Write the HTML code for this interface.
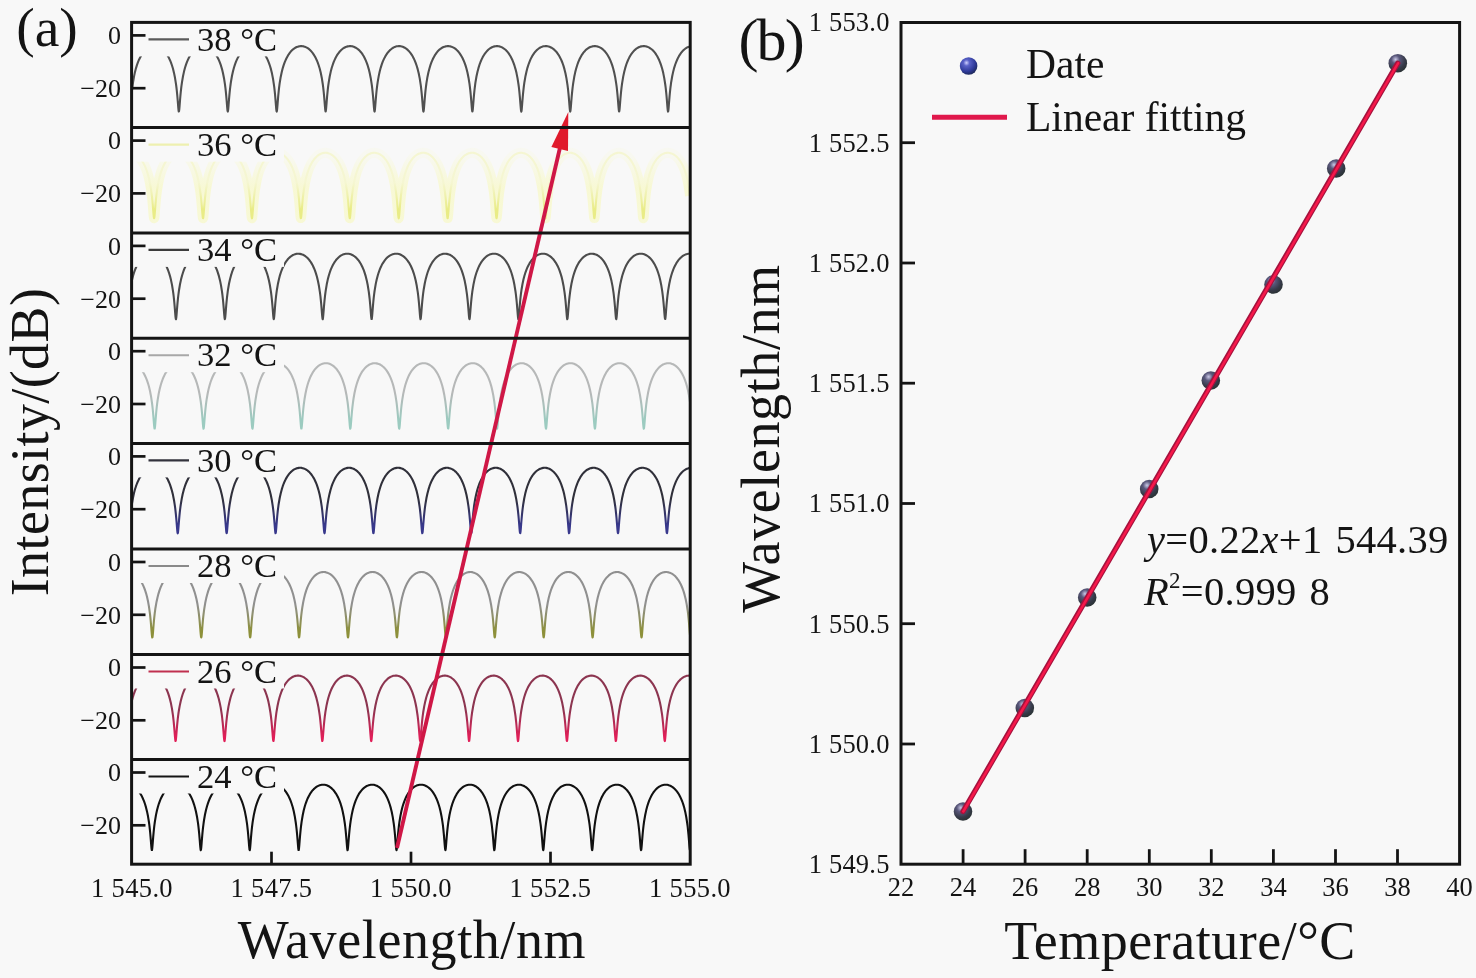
<!DOCTYPE html>
<html lang="en"><head><meta charset="utf-8"><title>Figure</title>
<style>
html,body{margin:0;padding:0;background:#f8f8f8;}
body{width:1476px;height:978px;overflow:hidden;}
svg{display:block;}
.s{font-family:"Liberation Serif","Times New Roman",serif;fill:#141414;}
</style></head><body>
<svg width="1476" height="978" viewBox="0 0 1476 978">
<defs>
<linearGradient id="g38" gradientUnits="userSpaceOnUse" x1="0" y1="77.4" x2="0" y2="104.4"><stop offset="0" stop-color="#505050"/><stop offset="1" stop-color="#505050"/></linearGradient>
<linearGradient id="g36" gradientUnits="userSpaceOnUse" x1="0" y1="182.6" x2="0" y2="209.6"><stop offset="0" stop-color="#f5f6d2"/><stop offset="1" stop-color="#e9ec86"/></linearGradient>
<linearGradient id="g34" gradientUnits="userSpaceOnUse" x1="0" y1="287.9" x2="0" y2="314.9"><stop offset="0" stop-color="#4c4c4c"/><stop offset="1" stop-color="#4c4c4c"/></linearGradient>
<linearGradient id="g32" gradientUnits="userSpaceOnUse" x1="0" y1="393.2" x2="0" y2="420.2"><stop offset="0" stop-color="#b6b8b8"/><stop offset="1" stop-color="#9ccbc0"/></linearGradient>
<linearGradient id="g30" gradientUnits="userSpaceOnUse" x1="0" y1="498.4" x2="0" y2="525.4"><stop offset="0" stop-color="#30303a"/><stop offset="1" stop-color="#38388c"/></linearGradient>
<linearGradient id="g28" gradientUnits="userSpaceOnUse" x1="0" y1="604.0" x2="0" y2="631.0"><stop offset="0" stop-color="#909090"/><stop offset="1" stop-color="#8d903a"/></linearGradient>
<linearGradient id="g26" gradientUnits="userSpaceOnUse" x1="0" y1="709.5" x2="0" y2="736.5"><stop offset="0" stop-color="#8c3550"/><stop offset="1" stop-color="#e01f58"/></linearGradient>
<linearGradient id="g24" gradientUnits="userSpaceOnUse" x1="0" y1="814.5" x2="0" y2="841.5"><stop offset="0" stop-color="#111111"/><stop offset="1" stop-color="#111111"/></linearGradient>
<linearGradient id="glow36" gradientUnits="userSpaceOnUse" x1="0" y1="155.6" x2="0" y2="187.6"><stop offset="0" stop-color="#f7f9a0" stop-opacity="0.08"/><stop offset="1" stop-color="#f7f9a0" stop-opacity="0.4"/></linearGradient>
<radialGradient id="ball" cx="0.38" cy="0.32" r="0.7"><stop offset="0" stop-color="#cfd0ff"/><stop offset="0.25" stop-color="#5a62c8"/><stop offset="0.7" stop-color="#2f3a9a"/><stop offset="1" stop-color="#1e2a5a"/></radialGradient>
<radialGradient id="pt" cx="0.38" cy="0.3" r="0.72"><stop offset="0" stop-color="#cac8e6"/><stop offset="0.3" stop-color="#5a587c"/><stop offset="0.72" stop-color="#363a48"/><stop offset="1" stop-color="#2a3234"/></radialGradient>
<clipPath id="clipA"><rect x="132.0" y="22.4" width="558.0" height="841.8000000000001"/></clipPath>
</defs>
<rect width="1476" height="978" fill="#f8f8f8"/>
<g clip-path="url(#clipA)" fill="none" stroke-linejoin="round">
<path d="M132.00,90.5 132.25,88.3 132.50,86.3 132.75,84.4 133.00,82.6 134.00,76.6 135.00,71.9 136.00,68.1 137.00,64.9 138.00,62.1 139.00,59.7 140.00,57.7 141.00,55.9 142.00,54.3 143.00,52.9 144.00,51.6 145.00,50.5 146.00,49.6 147.00,48.8 148.00,48.1 149.00,47.5 150.00,47.0 151.00,46.7 152.00,46.4 153.00,46.2 154.00,46.1 155.00,46.1 156.00,46.2 157.00,46.4 158.00,46.7 159.00,47.1 160.00,47.6 161.00,48.2 162.00,48.9 163.00,49.8 164.00,50.8 165.00,51.9 166.00,53.1 167.00,54.6 168.00,56.2 169.00,58.1 170.00,60.2 171.00,62.7 172.00,65.5 173.00,68.8 174.00,72.9 175.00,77.8 176.00,84.1 176.25,86.0 176.50,88.0 176.75,90.2 177.00,92.6 177.25,95.2 177.50,98.0 177.75,101.0 178.00,104.2 178.25,107.3 178.50,110.0 178.75,111.5 179.00,111.3 179.25,109.6 179.50,106.8 179.75,103.7 180.00,100.5 180.25,97.5 180.50,94.7 180.75,92.2 181.00,89.8 181.25,87.6 181.50,85.6 181.75,83.8 182.00,82.1 183.00,76.2 184.00,71.6 185.00,67.8 186.00,64.6 187.00,61.9 188.00,59.6 189.00,57.5 190.00,55.7 191.00,54.1 192.00,52.8 193.00,51.5 194.00,50.5 195.00,49.5 196.00,48.7 197.00,48.0 198.00,47.5 199.00,47.0 200.00,46.6 201.00,46.4 202.00,46.2 203.00,46.1 204.00,46.1 205.00,46.2 206.00,46.4 207.00,46.8 208.00,47.2 209.00,47.7 210.00,48.3 211.00,49.0 212.00,49.9 213.00,50.8 214.00,52.0 215.00,53.2 216.00,54.7 217.00,56.4 218.00,58.2 219.00,60.4 220.00,62.9 221.00,65.7 222.00,69.1 223.00,73.2 224.00,78.2 225.00,84.7 225.25,86.6 225.50,88.7 225.75,90.9 226.00,93.4 226.25,96.1 226.50,99.0 226.75,102.0 227.00,105.2 227.25,108.2 227.50,110.6 227.75,111.6 228.00,110.9 228.25,108.8 228.50,105.8 228.75,102.7 229.00,99.5 229.25,96.6 229.50,93.9 229.75,91.4 230.00,89.1 230.25,87.0 230.50,85.0 230.75,83.2 231.00,81.5 232.00,75.8 233.00,71.3 234.00,67.5 235.00,64.4 236.00,61.7 237.00,59.4 238.00,57.4 239.00,55.6 240.00,54.0 241.00,52.6 242.00,51.4 243.00,50.4 244.00,49.5 245.00,48.7 246.00,48.0 247.00,47.4 248.00,47.0 249.00,46.6 250.00,46.3 251.00,46.2 252.00,46.1 253.00,46.1 254.00,46.3 255.00,46.5 256.00,46.8 257.00,47.2 258.00,47.7 259.00,48.3 260.00,49.1 261.00,49.9 262.00,50.9 263.00,52.1 264.00,53.4 265.00,54.8 266.00,56.5 267.00,58.4 268.00,60.6 269.00,63.1 270.00,66.0 271.00,69.4 272.00,73.6 273.00,78.7 274.00,85.3 274.25,87.2 274.50,89.4 274.75,91.7 275.00,94.2 275.25,97.0 275.50,99.9 275.75,103.1 276.00,106.2 276.25,109.1 276.50,111.1 276.75,111.6 277.00,110.4 277.25,107.9 277.50,104.8 277.75,101.6 278.00,98.6 278.25,95.7 278.50,93.1 278.75,90.6 279.00,88.4 279.25,86.3 279.50,84.4 279.75,82.7 280.75,76.7 281.75,72.0 282.75,68.1 283.75,64.9 284.75,62.1 285.75,59.8 286.75,57.7 287.75,55.9 288.75,54.3 289.75,52.9 290.75,51.6 291.75,50.6 292.75,49.6 293.75,48.8 294.75,48.1 295.75,47.5 296.75,47.0 297.75,46.7 298.75,46.4 299.75,46.2 300.75,46.1 301.75,46.1 302.75,46.2 303.75,46.4 304.75,46.7 305.75,47.1 306.75,47.6 307.75,48.2 308.75,48.9 309.75,49.8 310.75,50.8 311.75,51.9 312.75,53.1 313.75,54.6 314.75,56.2 315.75,58.1 316.75,60.2 317.75,62.6 318.75,65.5 319.75,68.8 320.75,72.8 321.75,77.7 322.75,84.0 323.00,85.9 323.25,87.9 323.50,90.1 323.75,92.5 324.00,95.1 324.25,97.9 324.50,100.9 324.75,104.1 325.00,107.2 325.25,109.9 325.50,111.4 325.75,111.4 326.00,109.7 326.25,106.9 326.50,103.8 326.75,100.6 327.00,97.6 327.25,94.8 327.50,92.3 327.75,89.9 328.00,87.7 328.25,85.7 328.50,83.9 328.75,82.1 329.75,76.3 330.75,71.6 331.75,67.8 332.75,64.7 333.75,61.9 334.75,59.6 335.75,57.5 336.75,55.7 337.75,54.2 338.75,52.8 339.75,51.5 340.75,50.5 341.75,49.5 342.75,48.7 343.75,48.0 344.75,47.5 345.75,47.0 346.75,46.6 347.75,46.4 348.75,46.2 349.75,46.1 350.75,46.1 351.75,46.2 352.75,46.4 353.75,46.8 354.75,47.2 355.75,47.7 356.75,48.3 357.75,49.0 358.75,49.9 359.75,50.8 360.75,52.0 361.75,53.2 362.75,54.7 363.75,56.3 364.75,58.2 365.75,60.4 366.75,62.8 367.75,65.7 368.75,69.1 369.75,73.2 370.75,78.2 371.75,84.6 372.00,86.5 372.25,88.6 372.50,90.8 372.75,93.3 373.00,96.0 373.25,98.8 373.50,101.9 373.75,105.1 374.00,108.1 374.25,110.5 374.50,111.6 374.75,111.0 375.00,108.9 375.25,106.0 375.50,102.8 375.75,99.7 376.00,96.7 376.25,94.0 376.50,91.5 376.75,89.2 377.00,87.1 377.25,85.1 377.50,83.3 377.75,81.6 378.75,75.9 379.75,71.3 380.75,67.6 381.75,64.4 382.75,61.7 383.75,59.4 384.75,57.4 385.75,55.6 386.75,54.0 387.75,52.7 388.75,51.5 389.75,50.4 390.75,49.5 391.75,48.7 392.75,48.0 393.75,47.4 394.75,47.0 395.75,46.6 396.75,46.3 397.75,46.2 398.75,46.1 399.75,46.1 400.75,46.3 401.75,46.5 402.75,46.8 403.75,47.2 404.75,47.7 405.75,48.3 406.75,49.1 407.75,49.9 408.75,50.9 409.75,52.1 410.75,53.3 411.75,54.8 412.75,56.5 413.75,58.4 414.75,60.6 415.75,63.1 416.75,66.0 417.75,69.4 418.75,73.5 419.75,78.6 420.75,85.2 421.00,87.2 421.25,89.3 421.50,91.6 421.75,94.1 422.00,96.9 422.25,99.8 422.50,102.9 422.75,106.1 423.00,109.0 423.25,111.0 423.50,111.6 423.75,110.4 424.00,108.0 424.25,105.0 424.50,101.8 424.75,98.7 425.00,95.8 425.25,93.2 425.50,90.7 425.75,88.5 426.00,86.4 426.25,84.5 426.50,82.7 427.50,76.7 428.50,72.0 429.50,68.2 430.50,64.9 431.50,62.2 432.50,59.8 433.50,57.7 434.50,55.9 435.50,54.3 436.50,52.9 437.50,51.6 438.50,50.6 439.50,49.6 440.50,48.8 441.50,48.1 442.50,47.5 443.50,47.0 444.50,46.7 445.50,46.4 446.50,46.2 447.50,46.1 448.50,46.1 449.50,46.2 450.50,46.4 451.50,46.7 452.50,47.1 453.50,47.6 454.50,48.2 455.50,48.9 456.50,49.8 457.50,50.7 458.50,51.8 459.50,53.1 460.50,54.6 461.50,56.2 462.50,58.0 463.50,60.2 464.50,62.6 465.50,65.4 466.50,68.8 467.50,72.8 468.50,77.7 469.50,83.9 469.75,85.8 470.00,87.8 470.25,90.0 470.50,92.4 470.75,95.0 471.00,97.8 471.25,100.8 471.50,104.0 471.75,107.1 472.00,109.8 472.25,111.4 472.50,111.4 472.75,109.8 473.00,107.1 473.25,103.9 473.50,100.8 473.75,97.7 474.00,94.9 474.25,92.4 474.50,90.0 474.75,87.8 475.00,85.8 475.25,83.9 475.50,82.2 476.50,76.3 477.50,71.7 478.50,67.9 479.50,64.7 480.50,62.0 481.50,59.6 482.50,57.6 483.50,55.8 484.50,54.2 485.50,52.8 486.50,51.6 487.50,50.5 488.50,49.5 489.50,48.7 490.50,48.1 491.50,47.5 492.50,47.0 493.50,46.6 494.50,46.4 495.50,46.2 496.50,46.1 497.50,46.1 498.50,46.2 499.50,46.4 500.50,46.7 501.50,47.1 502.50,47.7 503.50,48.3 504.50,49.0 505.50,49.8 506.50,50.8 507.50,51.9 508.50,53.2 509.50,54.7 510.50,56.3 511.50,58.2 512.50,60.3 513.50,62.8 514.50,65.7 515.50,69.1 516.50,73.1 517.50,78.1 518.50,84.5 518.75,86.4 519.00,88.5 519.25,90.7 519.50,93.2 519.75,95.8 520.00,98.7 520.25,101.8 520.50,105.0 520.75,108.0 521.00,110.4 521.25,111.6 521.50,111.0 521.75,109.0 522.00,106.1 522.25,102.9 522.50,99.8 522.75,96.8 523.00,94.1 523.25,91.6 523.50,89.3 523.75,87.1 524.00,85.2 524.25,83.4 524.50,81.7 525.50,75.9 526.50,71.4 527.50,67.6 528.50,64.5 529.50,61.8 530.50,59.4 531.50,57.4 532.50,55.6 533.50,54.1 534.50,52.7 535.50,51.5 536.50,50.4 537.50,49.5 538.50,48.7 539.50,48.0 540.50,47.4 541.50,47.0 542.50,46.6 543.50,46.3 544.50,46.2 545.50,46.1 546.50,46.1 547.50,46.3 548.50,46.5 549.50,46.8 550.50,47.2 551.50,47.7 552.50,48.3 553.50,49.1 554.50,49.9 555.50,50.9 556.50,52.0 557.50,53.3 558.50,54.8 559.50,56.5 560.50,58.4 561.50,60.5 562.50,63.0 563.50,65.9 564.50,69.4 565.50,73.5 566.50,78.6 567.50,85.1 567.75,87.1 568.00,89.2 568.25,91.5 568.50,94.0 568.75,96.7 569.00,99.7 569.25,102.8 569.50,106.0 569.75,108.9 570.00,111.0 570.25,111.6 570.50,110.5 570.75,108.1 571.00,105.1 571.25,101.9 571.50,98.8 571.75,95.9 572.00,93.3 572.25,90.8 572.50,88.6 572.75,86.5 573.00,84.6 573.25,82.8 574.25,76.8 575.25,72.1 576.25,68.2 577.25,65.0 578.25,62.2 579.25,59.8 580.25,57.7 581.25,55.9 582.25,54.3 583.25,52.9 584.25,51.7 585.25,50.6 586.25,49.6 587.25,48.8 588.25,48.1 589.25,47.5 590.25,47.0 591.25,46.7 592.25,46.4 593.25,46.2 594.25,46.1 595.25,46.1 596.25,46.2 597.25,46.4 598.25,46.7 599.25,47.1 600.25,47.6 601.25,48.2 602.25,48.9 603.25,49.8 604.25,50.7 605.25,51.8 606.25,53.1 607.25,54.5 608.25,56.2 609.25,58.0 610.25,60.1 611.25,62.6 612.25,65.4 613.25,68.7 614.25,72.7 615.25,77.6 616.25,83.9 616.50,85.7 616.75,87.7 617.00,89.9 617.25,92.3 617.50,94.9 617.75,97.7 618.00,100.7 618.25,103.8 618.50,107.0 618.75,109.7 619.00,111.4 619.25,111.4 619.50,109.8 619.75,107.2 620.00,104.1 620.25,100.9 620.50,97.9 620.75,95.1 621.00,92.5 621.25,90.1 621.50,87.9 621.75,85.9 622.00,84.0 622.25,82.3 623.25,76.4 624.25,71.7 625.25,67.9 626.25,64.7 627.25,62.0 628.25,59.6 629.25,57.6 630.25,55.8 631.25,54.2 632.25,52.8 633.25,51.6 634.25,50.5 635.25,49.6 636.25,48.7 637.25,48.1 638.25,47.5 639.25,47.0 640.25,46.6 641.25,46.4 642.25,46.2 643.25,46.1 644.25,46.1 645.25,46.2 646.25,46.4 647.25,46.7 648.25,47.1 649.25,47.6 650.25,48.3 651.25,49.0 652.25,49.8 653.25,50.8 654.25,51.9 655.25,53.2 656.25,54.7 657.25,56.3 658.25,58.2 659.25,60.3 660.25,62.8 661.25,65.7 662.25,69.0 663.25,73.1 664.25,78.1 665.25,84.5 665.50,86.4 665.75,88.4 666.00,90.7 666.25,93.1 666.50,95.7 666.75,98.6 667.00,101.7 667.25,104.9 667.50,107.9 667.75,110.4 668.00,111.6 668.25,111.1 668.50,109.1 668.75,106.2 669.00,103.0 669.25,99.9 669.50,96.9 669.75,94.2 670.00,91.7 670.25,89.4 670.50,87.2 670.75,85.3 671.00,83.4 671.25,81.7 672.25,76.0 673.25,71.4 674.25,67.6 675.25,64.5 676.25,61.8 677.25,59.5 678.25,57.4 679.25,55.6 680.25,54.1 681.25,52.7 682.25,51.5 683.25,50.4 684.25,49.5 685.25,48.7 686.25,48.0 687.25,47.4 688.25,47.0 689.25,46.6" stroke="url(#g38)" stroke-width="2.1"/>
<path d="M132.00,153.1 133.00,153.3 134.00,153.7 135.00,154.2 136.00,154.8 137.00,155.5 138.00,156.3 139.00,157.2 140.00,158.3 141.00,159.5 142.00,160.9 143.00,162.5 144.00,164.3 145.00,166.4 146.00,168.7 147.00,171.5 148.00,174.7 149.00,178.5 150.00,183.2 151.00,189.1 152.00,196.9 152.25,199.3 152.50,201.9 152.75,204.7 153.00,207.8 153.25,210.9 153.50,214.0 153.75,216.7 154.00,218.2 154.25,218.0 154.50,216.3 154.75,213.5 155.00,210.4 155.25,207.2 155.50,204.2 155.75,201.4 156.00,198.8 156.25,196.5 156.50,194.3 156.75,192.3 157.00,190.5 157.25,188.8 158.25,182.9 159.25,178.3 160.25,174.5 161.25,171.3 162.25,168.6 163.25,166.3 164.25,164.2 165.25,162.4 166.25,160.8 167.25,159.5 168.25,158.2 169.25,157.2 170.25,156.2 171.25,155.4 172.25,154.7 173.25,154.2 174.25,153.7 175.25,153.3 176.25,153.1 177.25,152.9 178.25,152.8 179.25,152.8 180.25,152.9 181.25,153.2 182.25,153.5 183.25,153.9 184.25,154.4 185.25,155.0 186.25,155.7 187.25,156.6 188.25,157.5 189.25,158.7 190.25,160.0 191.25,161.4 192.25,163.1 193.25,164.9 194.25,167.1 195.25,169.6 196.25,172.5 197.25,175.8 198.25,179.9 199.25,184.9 200.25,191.4 200.50,193.3 200.75,195.4 201.00,197.7 201.25,200.1 201.50,202.8 201.75,205.7 202.00,208.8 202.25,212.0 202.50,215.0 202.75,217.3 203.00,218.3 203.25,217.6 203.50,215.4 203.75,212.5 204.00,209.3 204.25,206.2 204.50,203.3 204.75,200.6 205.00,198.1 205.25,195.8 205.50,193.7 205.75,191.7 206.00,189.9 206.25,188.2 207.25,182.5 208.25,178.0 209.25,174.2 210.25,171.1 211.25,168.4 212.25,166.1 213.25,164.1 214.25,162.3 215.25,160.7 216.25,159.3 217.25,158.1 218.25,157.1 219.25,156.2 220.25,155.4 221.25,154.7 222.25,154.1 223.25,153.7 224.25,153.3 225.25,153.0 226.25,152.9 227.25,152.8 228.25,152.8 229.25,153.0 230.25,153.2 231.25,153.5 232.25,153.9 233.25,154.4 234.25,155.0 235.25,155.8 236.25,156.6 237.25,157.6 238.25,158.8 239.25,160.1 240.25,161.5 241.25,163.2 242.25,165.1 243.25,167.3 244.25,169.8 245.25,172.7 246.25,176.1 247.25,180.3 248.25,185.4 249.25,192.0 249.50,194.0 249.75,196.1 250.00,198.4 250.25,200.9 250.50,203.7 250.75,206.7 251.00,209.8 251.25,213.0 251.50,215.8 251.75,217.8 252.00,218.3 252.25,217.0 252.50,214.6 252.75,211.5 253.00,208.3 253.25,205.3 253.50,202.4 253.75,199.7 254.00,197.3 254.25,195.1 254.50,193.0 254.75,191.1 255.00,189.4 256.00,183.4 257.00,178.7 258.00,174.8 259.00,171.6 260.00,168.8 261.00,166.5 262.00,164.4 263.00,162.6 264.00,161.0 265.00,159.6 266.00,158.3 267.00,157.3 268.00,156.3 269.00,155.5 270.00,154.8 271.00,154.2 272.00,153.7 273.00,153.4 274.00,153.1 275.00,152.9 276.00,152.8 277.00,152.8 278.00,152.9 279.00,153.1 280.00,153.4 281.00,153.8 282.00,154.3 283.00,154.9 284.00,155.6 285.00,156.5 286.00,157.5 287.00,158.6 288.00,159.8 289.00,161.3 290.00,162.9 291.00,164.8 292.00,166.9 293.00,169.3 294.00,172.2 295.00,175.5 296.00,179.5 297.00,184.4 298.00,190.7 298.25,192.6 298.50,194.6 298.75,196.8 299.00,199.2 299.25,201.8 299.50,204.6 299.75,207.6 300.00,210.8 300.25,213.9 300.50,216.6 300.75,218.1 301.00,218.0 301.25,216.3 301.50,213.6 301.75,210.5 302.00,207.3 302.25,204.3 302.50,201.5 302.75,198.9 303.00,196.6 303.25,194.4 303.50,192.4 303.75,190.5 304.00,188.8 305.00,183.0 306.00,178.3 307.00,174.5 308.00,171.3 309.00,168.6 310.00,166.3 311.00,164.2 312.00,162.4 313.00,160.9 314.00,159.5 315.00,158.2 316.00,157.2 317.00,156.2 318.00,155.4 319.00,154.7 320.00,154.2 321.00,153.7 322.00,153.3 323.00,153.1 324.00,152.9 325.00,152.8 326.00,152.8 327.00,152.9 328.00,153.1 329.00,153.5 330.00,153.9 331.00,154.4 332.00,155.0 333.00,155.7 334.00,156.6 335.00,157.5 336.00,158.7 337.00,159.9 338.00,161.4 339.00,163.0 340.00,164.9 341.00,167.1 342.00,169.6 343.00,172.4 344.00,175.8 345.00,179.9 346.00,184.9 347.00,191.3 347.25,193.2 347.50,195.3 347.75,197.6 348.00,200.0 348.25,202.7 348.50,205.6 348.75,208.6 349.00,211.8 349.25,214.9 349.50,217.2 349.75,218.3 350.00,217.7 350.25,215.6 350.50,212.6 350.75,209.5 351.00,206.3 351.25,203.4 351.50,200.7 351.75,198.2 352.00,195.9 352.25,193.8 352.50,191.8 352.75,190.0 353.00,188.3 354.00,182.6 355.00,178.0 356.00,174.3 357.00,171.1 358.00,168.4 359.00,166.1 360.00,164.1 361.00,162.3 362.00,160.7 363.00,159.4 364.00,158.2 365.00,157.1 366.00,156.2 367.00,155.4 368.00,154.7 369.00,154.1 370.00,153.7 371.00,153.3 372.00,153.0 373.00,152.9 374.00,152.8 375.00,152.8 376.00,153.0 377.00,153.2 378.00,153.5 379.00,153.9 380.00,154.4 381.00,155.0 382.00,155.8 383.00,156.6 384.00,157.6 385.00,158.8 386.00,160.0 387.00,161.5 388.00,163.2 389.00,165.1 390.00,167.3 391.00,169.8 392.00,172.7 393.00,176.1 394.00,180.2 395.00,185.3 396.00,191.9 396.25,193.9 396.50,196.0 396.75,198.3 397.00,200.8 397.25,203.6 397.50,206.5 397.75,209.7 398.00,212.8 398.25,215.7 398.50,217.7 398.75,218.3 399.00,217.1 399.25,214.7 399.50,211.6 399.75,208.4 400.00,205.4 400.25,202.5 400.50,199.8 400.75,197.4 401.00,195.2 401.25,193.1 401.50,191.2 401.75,189.4 402.75,183.4 403.75,178.7 404.75,174.8 405.75,171.6 406.75,168.9 407.75,166.5 408.75,164.4 409.75,162.6 410.75,161.0 411.75,159.6 412.75,158.3 413.75,157.3 414.75,156.3 415.75,155.5 416.75,154.8 417.75,154.2 418.75,153.7 419.75,153.4 420.75,153.1 421.75,152.9 422.75,152.8 423.75,152.8 424.75,152.9 425.75,153.1 426.75,153.4 427.75,153.8 428.75,154.3 429.75,154.9 430.75,155.6 431.75,156.5 432.75,157.4 433.75,158.6 434.75,159.8 435.75,161.3 436.75,162.9 437.75,164.7 438.75,166.9 439.75,169.3 440.75,172.1 441.75,175.5 442.75,179.5 443.75,184.4 444.75,190.7 445.00,192.5 445.25,194.5 445.50,196.7 445.75,199.1 446.00,201.7 446.25,204.5 446.50,207.5 446.75,210.7 447.00,213.8 447.25,216.5 447.50,218.1 447.75,218.1 448.00,216.4 448.25,213.7 448.50,210.6 448.75,207.4 449.00,204.4 449.25,201.6 449.50,199.0 449.75,196.7 450.00,194.5 450.25,192.5 450.50,190.6 450.75,188.9 451.75,183.0 452.75,178.4 453.75,174.6 454.75,171.4 455.75,168.7 456.75,166.3 457.75,164.2 458.75,162.4 459.75,160.9 460.75,159.5 461.75,158.3 462.75,157.2 463.75,156.2 464.75,155.4 465.75,154.8 466.75,154.2 467.75,153.7 468.75,153.3 469.75,153.1 470.75,152.9 471.75,152.8 472.75,152.8 473.75,152.9 474.75,153.1 475.75,153.4 476.75,153.9 477.75,154.4 478.75,155.0 479.75,155.7 480.75,156.5 481.75,157.5 482.75,158.6 483.75,159.9 484.75,161.4 485.75,163.0 486.75,164.9 487.75,167.1 488.75,169.5 489.75,172.4 490.75,175.8 491.75,179.8 492.75,184.8 493.75,191.2 494.00,193.2 494.25,195.2 494.50,197.5 494.75,199.9 495.00,202.6 495.25,205.4 495.50,208.5 495.75,211.7 496.00,214.7 496.25,217.2 496.50,218.3 496.75,217.7 497.00,215.7 497.25,212.8 497.50,209.6 497.75,206.5 498.00,203.5 498.25,200.8 498.50,198.3 498.75,196.0 499.00,193.8 499.25,191.9 499.50,190.1 499.75,188.4 500.75,182.6 501.75,178.0 502.75,174.3 503.75,171.1 504.75,168.5 505.75,166.1 506.75,164.1 507.75,162.3 508.75,160.7 509.75,159.4 510.75,158.2 511.75,157.1 512.75,156.2 513.75,155.4 514.75,154.7 515.75,154.1 516.75,153.7 517.75,153.3 518.75,153.0 519.75,152.9 520.75,152.8 521.75,152.8 522.75,153.0 523.75,153.2 524.75,153.5 525.75,153.9 526.75,154.4 527.75,155.0 528.75,155.8 529.75,156.6 530.75,157.6 531.75,158.7 532.75,160.0 533.75,161.5 534.75,163.2 535.75,165.1 536.75,167.2 537.75,169.7 538.75,172.6 539.75,176.1 540.75,180.2 541.75,185.3 542.75,191.8 543.00,193.8 543.25,195.9 543.50,198.2 543.75,200.7 544.00,203.5 544.25,206.4 544.50,209.5 544.75,212.7 545.00,215.6 545.25,217.7 545.50,218.3 545.75,217.2 546.00,214.8 546.25,211.8 546.50,208.6 546.75,205.5 547.00,202.6 547.25,199.9 547.50,197.5 547.75,195.3 548.00,193.2 548.25,191.3 548.50,189.5 549.50,183.5 550.50,178.8 551.50,174.9 552.50,171.6 553.50,168.9 554.50,166.5 555.50,164.4 556.50,162.6 557.50,161.0 558.50,159.6 559.50,158.4 560.50,157.3 561.50,156.3 562.50,155.5 563.50,154.8 564.50,154.2 565.50,153.7 566.50,153.4 567.50,153.1 568.50,152.9 569.50,152.8 570.50,152.8 571.50,152.9 572.50,153.1 573.50,153.4 574.50,153.8 575.50,154.3 576.50,154.9 577.50,155.6 578.50,156.5 579.50,157.4 580.50,158.5 581.50,159.8 582.50,161.2 583.50,162.9 584.50,164.7 585.50,166.8 586.50,169.3 587.50,172.1 588.50,175.4 589.50,179.4 590.50,184.3 591.50,190.6 591.75,192.5 592.00,194.5 592.25,196.6 592.50,199.0 592.75,201.6 593.00,204.4 593.25,207.4 593.50,210.6 593.75,213.7 594.00,216.4 594.25,218.1 594.50,218.1 594.75,216.5 595.00,213.9 595.25,210.7 595.50,207.6 595.75,204.5 596.00,201.7 596.25,199.1 596.50,196.8 596.75,194.6 597.00,192.6 597.25,190.7 597.50,189.0 598.50,183.1 599.50,178.4 600.50,174.6 601.50,171.4 602.50,168.7 603.50,166.3 604.50,164.3 605.50,162.5 606.50,160.9 607.50,159.5 608.50,158.3 609.50,157.2 610.50,156.3 611.50,155.4 612.50,154.8 613.50,154.2 614.50,153.7 615.50,153.3 616.50,153.1 617.50,152.9 618.50,152.8 619.50,152.8 620.50,152.9 621.50,153.1 622.50,153.4 623.50,153.8 624.50,154.4 625.50,155.0 626.50,155.7 627.50,156.5 628.50,157.5 629.50,158.6 630.50,159.9 631.50,161.4 632.50,163.0 633.50,164.9 634.50,167.0 635.50,169.5 636.50,172.4 637.50,175.7 638.50,179.8 639.50,184.8 640.50,191.2 640.75,193.1 641.00,195.1 641.25,197.4 641.50,199.8 641.75,202.5 642.00,205.3 642.25,208.4 642.50,211.6 642.75,214.6 643.00,217.1 643.25,218.3 643.50,217.8 643.75,215.8 644.00,212.9 644.25,209.7 644.50,206.6 644.75,203.6 645.00,200.9 645.25,198.4 645.50,196.0 645.75,193.9 646.00,191.9 646.25,190.1 646.50,188.4 647.50,182.7 648.50,178.1 649.50,174.3 650.50,171.2 651.50,168.5 652.50,166.1 653.50,164.1 654.50,162.3 655.50,160.8 656.50,159.4 657.50,158.2 658.50,157.1 659.50,156.2 660.50,155.4 661.50,154.7 662.50,154.1 663.50,153.7 664.50,153.3 665.50,153.0 666.50,152.9 667.50,152.8 668.50,152.8 669.50,153.0 670.50,153.2 671.50,153.5 672.50,153.9 673.50,154.4 674.50,155.0 675.50,155.8 676.50,156.6 677.50,157.6 678.50,158.7 679.50,160.0 680.50,161.5 681.50,163.2 682.50,165.0 683.50,167.2 684.50,169.7 685.50,172.6 686.50,176.0 687.50,180.1 688.50,185.2 689.50,191.8 689.75,193.7 690.00,195.8" stroke="url(#glow36)" stroke-width="10"/>
<path d="M132.00,153.1 133.00,153.3 134.00,153.7 135.00,154.2 136.00,154.8 137.00,155.5 138.00,156.3 139.00,157.2 140.00,158.3 141.00,159.5 142.00,160.9 143.00,162.5 144.00,164.3 145.00,166.4 146.00,168.7 147.00,171.5 148.00,174.7 149.00,178.5 150.00,183.2 151.00,189.1 152.00,196.9 152.25,199.3 152.50,201.9 152.75,204.7 153.00,207.8 153.25,210.9 153.50,214.0 153.75,216.7 154.00,218.2 154.25,218.0 154.50,216.3 154.75,213.5 155.00,210.4 155.25,207.2 155.50,204.2 155.75,201.4 156.00,198.8 156.25,196.5 156.50,194.3 156.75,192.3 157.00,190.5 157.25,188.8 158.25,182.9 159.25,178.3 160.25,174.5 161.25,171.3 162.25,168.6 163.25,166.3 164.25,164.2 165.25,162.4 166.25,160.8 167.25,159.5 168.25,158.2 169.25,157.2 170.25,156.2 171.25,155.4 172.25,154.7 173.25,154.2 174.25,153.7 175.25,153.3 176.25,153.1 177.25,152.9 178.25,152.8 179.25,152.8 180.25,152.9 181.25,153.2 182.25,153.5 183.25,153.9 184.25,154.4 185.25,155.0 186.25,155.7 187.25,156.6 188.25,157.5 189.25,158.7 190.25,160.0 191.25,161.4 192.25,163.1 193.25,164.9 194.25,167.1 195.25,169.6 196.25,172.5 197.25,175.8 198.25,179.9 199.25,184.9 200.25,191.4 200.50,193.3 200.75,195.4 201.00,197.7 201.25,200.1 201.50,202.8 201.75,205.7 202.00,208.8 202.25,212.0 202.50,215.0 202.75,217.3 203.00,218.3 203.25,217.6 203.50,215.4 203.75,212.5 204.00,209.3 204.25,206.2 204.50,203.3 204.75,200.6 205.00,198.1 205.25,195.8 205.50,193.7 205.75,191.7 206.00,189.9 206.25,188.2 207.25,182.5 208.25,178.0 209.25,174.2 210.25,171.1 211.25,168.4 212.25,166.1 213.25,164.1 214.25,162.3 215.25,160.7 216.25,159.3 217.25,158.1 218.25,157.1 219.25,156.2 220.25,155.4 221.25,154.7 222.25,154.1 223.25,153.7 224.25,153.3 225.25,153.0 226.25,152.9 227.25,152.8 228.25,152.8 229.25,153.0 230.25,153.2 231.25,153.5 232.25,153.9 233.25,154.4 234.25,155.0 235.25,155.8 236.25,156.6 237.25,157.6 238.25,158.8 239.25,160.1 240.25,161.5 241.25,163.2 242.25,165.1 243.25,167.3 244.25,169.8 245.25,172.7 246.25,176.1 247.25,180.3 248.25,185.4 249.25,192.0 249.50,194.0 249.75,196.1 250.00,198.4 250.25,200.9 250.50,203.7 250.75,206.7 251.00,209.8 251.25,213.0 251.50,215.8 251.75,217.8 252.00,218.3 252.25,217.0 252.50,214.6 252.75,211.5 253.00,208.3 253.25,205.3 253.50,202.4 253.75,199.7 254.00,197.3 254.25,195.1 254.50,193.0 254.75,191.1 255.00,189.4 256.00,183.4 257.00,178.7 258.00,174.8 259.00,171.6 260.00,168.8 261.00,166.5 262.00,164.4 263.00,162.6 264.00,161.0 265.00,159.6 266.00,158.3 267.00,157.3 268.00,156.3 269.00,155.5 270.00,154.8 271.00,154.2 272.00,153.7 273.00,153.4 274.00,153.1 275.00,152.9 276.00,152.8 277.00,152.8 278.00,152.9 279.00,153.1 280.00,153.4 281.00,153.8 282.00,154.3 283.00,154.9 284.00,155.6 285.00,156.5 286.00,157.5 287.00,158.6 288.00,159.8 289.00,161.3 290.00,162.9 291.00,164.8 292.00,166.9 293.00,169.3 294.00,172.2 295.00,175.5 296.00,179.5 297.00,184.4 298.00,190.7 298.25,192.6 298.50,194.6 298.75,196.8 299.00,199.2 299.25,201.8 299.50,204.6 299.75,207.6 300.00,210.8 300.25,213.9 300.50,216.6 300.75,218.1 301.00,218.0 301.25,216.3 301.50,213.6 301.75,210.5 302.00,207.3 302.25,204.3 302.50,201.5 302.75,198.9 303.00,196.6 303.25,194.4 303.50,192.4 303.75,190.5 304.00,188.8 305.00,183.0 306.00,178.3 307.00,174.5 308.00,171.3 309.00,168.6 310.00,166.3 311.00,164.2 312.00,162.4 313.00,160.9 314.00,159.5 315.00,158.2 316.00,157.2 317.00,156.2 318.00,155.4 319.00,154.7 320.00,154.2 321.00,153.7 322.00,153.3 323.00,153.1 324.00,152.9 325.00,152.8 326.00,152.8 327.00,152.9 328.00,153.1 329.00,153.5 330.00,153.9 331.00,154.4 332.00,155.0 333.00,155.7 334.00,156.6 335.00,157.5 336.00,158.7 337.00,159.9 338.00,161.4 339.00,163.0 340.00,164.9 341.00,167.1 342.00,169.6 343.00,172.4 344.00,175.8 345.00,179.9 346.00,184.9 347.00,191.3 347.25,193.2 347.50,195.3 347.75,197.6 348.00,200.0 348.25,202.7 348.50,205.6 348.75,208.6 349.00,211.8 349.25,214.9 349.50,217.2 349.75,218.3 350.00,217.7 350.25,215.6 350.50,212.6 350.75,209.5 351.00,206.3 351.25,203.4 351.50,200.7 351.75,198.2 352.00,195.9 352.25,193.8 352.50,191.8 352.75,190.0 353.00,188.3 354.00,182.6 355.00,178.0 356.00,174.3 357.00,171.1 358.00,168.4 359.00,166.1 360.00,164.1 361.00,162.3 362.00,160.7 363.00,159.4 364.00,158.2 365.00,157.1 366.00,156.2 367.00,155.4 368.00,154.7 369.00,154.1 370.00,153.7 371.00,153.3 372.00,153.0 373.00,152.9 374.00,152.8 375.00,152.8 376.00,153.0 377.00,153.2 378.00,153.5 379.00,153.9 380.00,154.4 381.00,155.0 382.00,155.8 383.00,156.6 384.00,157.6 385.00,158.8 386.00,160.0 387.00,161.5 388.00,163.2 389.00,165.1 390.00,167.3 391.00,169.8 392.00,172.7 393.00,176.1 394.00,180.2 395.00,185.3 396.00,191.9 396.25,193.9 396.50,196.0 396.75,198.3 397.00,200.8 397.25,203.6 397.50,206.5 397.75,209.7 398.00,212.8 398.25,215.7 398.50,217.7 398.75,218.3 399.00,217.1 399.25,214.7 399.50,211.6 399.75,208.4 400.00,205.4 400.25,202.5 400.50,199.8 400.75,197.4 401.00,195.2 401.25,193.1 401.50,191.2 401.75,189.4 402.75,183.4 403.75,178.7 404.75,174.8 405.75,171.6 406.75,168.9 407.75,166.5 408.75,164.4 409.75,162.6 410.75,161.0 411.75,159.6 412.75,158.3 413.75,157.3 414.75,156.3 415.75,155.5 416.75,154.8 417.75,154.2 418.75,153.7 419.75,153.4 420.75,153.1 421.75,152.9 422.75,152.8 423.75,152.8 424.75,152.9 425.75,153.1 426.75,153.4 427.75,153.8 428.75,154.3 429.75,154.9 430.75,155.6 431.75,156.5 432.75,157.4 433.75,158.6 434.75,159.8 435.75,161.3 436.75,162.9 437.75,164.7 438.75,166.9 439.75,169.3 440.75,172.1 441.75,175.5 442.75,179.5 443.75,184.4 444.75,190.7 445.00,192.5 445.25,194.5 445.50,196.7 445.75,199.1 446.00,201.7 446.25,204.5 446.50,207.5 446.75,210.7 447.00,213.8 447.25,216.5 447.50,218.1 447.75,218.1 448.00,216.4 448.25,213.7 448.50,210.6 448.75,207.4 449.00,204.4 449.25,201.6 449.50,199.0 449.75,196.7 450.00,194.5 450.25,192.5 450.50,190.6 450.75,188.9 451.75,183.0 452.75,178.4 453.75,174.6 454.75,171.4 455.75,168.7 456.75,166.3 457.75,164.2 458.75,162.4 459.75,160.9 460.75,159.5 461.75,158.3 462.75,157.2 463.75,156.2 464.75,155.4 465.75,154.8 466.75,154.2 467.75,153.7 468.75,153.3 469.75,153.1 470.75,152.9 471.75,152.8 472.75,152.8 473.75,152.9 474.75,153.1 475.75,153.4 476.75,153.9 477.75,154.4 478.75,155.0 479.75,155.7 480.75,156.5 481.75,157.5 482.75,158.6 483.75,159.9 484.75,161.4 485.75,163.0 486.75,164.9 487.75,167.1 488.75,169.5 489.75,172.4 490.75,175.8 491.75,179.8 492.75,184.8 493.75,191.2 494.00,193.2 494.25,195.2 494.50,197.5 494.75,199.9 495.00,202.6 495.25,205.4 495.50,208.5 495.75,211.7 496.00,214.7 496.25,217.2 496.50,218.3 496.75,217.7 497.00,215.7 497.25,212.8 497.50,209.6 497.75,206.5 498.00,203.5 498.25,200.8 498.50,198.3 498.75,196.0 499.00,193.8 499.25,191.9 499.50,190.1 499.75,188.4 500.75,182.6 501.75,178.0 502.75,174.3 503.75,171.1 504.75,168.5 505.75,166.1 506.75,164.1 507.75,162.3 508.75,160.7 509.75,159.4 510.75,158.2 511.75,157.1 512.75,156.2 513.75,155.4 514.75,154.7 515.75,154.1 516.75,153.7 517.75,153.3 518.75,153.0 519.75,152.9 520.75,152.8 521.75,152.8 522.75,153.0 523.75,153.2 524.75,153.5 525.75,153.9 526.75,154.4 527.75,155.0 528.75,155.8 529.75,156.6 530.75,157.6 531.75,158.7 532.75,160.0 533.75,161.5 534.75,163.2 535.75,165.1 536.75,167.2 537.75,169.7 538.75,172.6 539.75,176.1 540.75,180.2 541.75,185.3 542.75,191.8 543.00,193.8 543.25,195.9 543.50,198.2 543.75,200.7 544.00,203.5 544.25,206.4 544.50,209.5 544.75,212.7 545.00,215.6 545.25,217.7 545.50,218.3 545.75,217.2 546.00,214.8 546.25,211.8 546.50,208.6 546.75,205.5 547.00,202.6 547.25,199.9 547.50,197.5 547.75,195.3 548.00,193.2 548.25,191.3 548.50,189.5 549.50,183.5 550.50,178.8 551.50,174.9 552.50,171.6 553.50,168.9 554.50,166.5 555.50,164.4 556.50,162.6 557.50,161.0 558.50,159.6 559.50,158.4 560.50,157.3 561.50,156.3 562.50,155.5 563.50,154.8 564.50,154.2 565.50,153.7 566.50,153.4 567.50,153.1 568.50,152.9 569.50,152.8 570.50,152.8 571.50,152.9 572.50,153.1 573.50,153.4 574.50,153.8 575.50,154.3 576.50,154.9 577.50,155.6 578.50,156.5 579.50,157.4 580.50,158.5 581.50,159.8 582.50,161.2 583.50,162.9 584.50,164.7 585.50,166.8 586.50,169.3 587.50,172.1 588.50,175.4 589.50,179.4 590.50,184.3 591.50,190.6 591.75,192.5 592.00,194.5 592.25,196.6 592.50,199.0 592.75,201.6 593.00,204.4 593.25,207.4 593.50,210.6 593.75,213.7 594.00,216.4 594.25,218.1 594.50,218.1 594.75,216.5 595.00,213.9 595.25,210.7 595.50,207.6 595.75,204.5 596.00,201.7 596.25,199.1 596.50,196.8 596.75,194.6 597.00,192.6 597.25,190.7 597.50,189.0 598.50,183.1 599.50,178.4 600.50,174.6 601.50,171.4 602.50,168.7 603.50,166.3 604.50,164.3 605.50,162.5 606.50,160.9 607.50,159.5 608.50,158.3 609.50,157.2 610.50,156.3 611.50,155.4 612.50,154.8 613.50,154.2 614.50,153.7 615.50,153.3 616.50,153.1 617.50,152.9 618.50,152.8 619.50,152.8 620.50,152.9 621.50,153.1 622.50,153.4 623.50,153.8 624.50,154.4 625.50,155.0 626.50,155.7 627.50,156.5 628.50,157.5 629.50,158.6 630.50,159.9 631.50,161.4 632.50,163.0 633.50,164.9 634.50,167.0 635.50,169.5 636.50,172.4 637.50,175.7 638.50,179.8 639.50,184.8 640.50,191.2 640.75,193.1 641.00,195.1 641.25,197.4 641.50,199.8 641.75,202.5 642.00,205.3 642.25,208.4 642.50,211.6 642.75,214.6 643.00,217.1 643.25,218.3 643.50,217.8 643.75,215.8 644.00,212.9 644.25,209.7 644.50,206.6 644.75,203.6 645.00,200.9 645.25,198.4 645.50,196.0 645.75,193.9 646.00,191.9 646.25,190.1 646.50,188.4 647.50,182.7 648.50,178.1 649.50,174.3 650.50,171.2 651.50,168.5 652.50,166.1 653.50,164.1 654.50,162.3 655.50,160.8 656.50,159.4 657.50,158.2 658.50,157.1 659.50,156.2 660.50,155.4 661.50,154.7 662.50,154.1 663.50,153.7 664.50,153.3 665.50,153.0 666.50,152.9 667.50,152.8 668.50,152.8 669.50,153.0 670.50,153.2 671.50,153.5 672.50,153.9 673.50,154.4 674.50,155.0 675.50,155.8 676.50,156.6 677.50,157.6 678.50,158.7 679.50,160.0 680.50,161.5 681.50,163.2 682.50,165.0 683.50,167.2 684.50,169.7 685.50,172.6 686.50,176.0 687.50,180.1 688.50,185.2 689.50,191.8 689.75,193.7 690.00,195.8" stroke="url(#g36)" stroke-width="2.1"/>
<path d="M132.00,279.9 133.00,276.0 134.00,272.7 135.00,269.9 136.00,267.5 137.00,265.4 138.00,263.6 139.00,262.0 140.00,260.6 141.00,259.3 142.00,258.2 143.00,257.3 144.00,256.5 145.00,255.7 146.00,255.2 147.00,254.7 148.00,254.3 149.00,254.0 150.00,253.8 151.00,253.7 152.00,253.7 153.00,253.8 154.00,254.0 155.00,254.3 156.00,254.7 157.00,255.2 158.00,255.8 159.00,256.5 160.00,257.3 161.00,258.3 162.00,259.4 163.00,260.6 164.00,262.1 165.00,263.7 166.00,265.5 167.00,267.6 168.00,270.0 169.00,272.8 170.00,276.1 171.00,280.1 172.00,284.9 173.00,291.1 173.25,292.9 173.50,294.9 173.75,297.0 174.00,299.4 174.25,301.9 174.50,304.6 174.75,307.6 175.00,310.7 175.25,313.9 175.50,316.8 175.75,318.7 176.00,319.2 176.25,317.9 176.50,315.4 176.75,312.3 177.00,309.2 177.25,306.1 177.50,303.2 177.75,300.6 178.00,298.2 178.25,296.0 178.50,293.9 178.75,292.0 179.00,290.2 180.00,284.3 181.00,279.6 182.00,275.7 183.00,272.5 184.00,269.7 185.00,267.3 186.00,265.3 187.00,263.5 188.00,261.9 189.00,260.5 190.00,259.2 191.00,258.1 192.00,257.2 193.00,256.4 194.00,255.7 195.00,255.1 196.00,254.6 197.00,254.3 198.00,254.0 199.00,253.8 200.00,253.7 201.00,253.7 202.00,253.8 203.00,254.0 204.00,254.3 205.00,254.7 206.00,255.2 207.00,255.8 208.00,256.5 209.00,257.4 210.00,258.4 211.00,259.5 212.00,260.7 213.00,262.2 214.00,263.8 215.00,265.7 216.00,267.8 217.00,270.2 218.00,273.1 219.00,276.4 220.00,280.4 221.00,285.4 222.00,291.7 222.25,293.5 222.50,295.6 222.75,297.8 223.00,300.1 223.25,302.7 223.50,305.6 223.75,308.6 224.00,311.8 224.25,314.9 224.50,317.5 224.75,319.1 225.00,318.9 225.25,317.2 225.50,314.5 225.75,311.3 226.00,308.2 226.25,305.2 226.50,302.4 226.75,299.8 227.00,297.4 227.25,295.3 227.50,293.3 227.75,291.4 228.00,289.7 229.00,283.8 230.00,279.2 231.00,275.4 232.00,272.2 233.00,269.5 234.00,267.2 235.00,265.1 236.00,263.3 237.00,261.7 238.00,260.4 239.00,259.1 240.00,258.1 241.00,257.1 242.00,256.3 243.00,255.6 244.00,255.1 245.00,254.6 246.00,254.2 247.00,254.0 248.00,253.8 249.00,253.7 250.00,253.7 251.00,253.8 252.00,254.0 253.00,254.4 254.00,254.8 255.00,255.3 256.00,255.9 257.00,256.6 258.00,257.5 259.00,258.4 260.00,259.6 261.00,260.8 262.00,262.3 263.00,264.0 264.00,265.8 265.00,268.0 266.00,270.5 267.00,273.3 268.00,276.7 269.00,280.8 270.00,285.8 271.00,292.2 271.25,294.2 271.50,296.2 271.75,298.5 272.00,300.9 272.25,303.6 272.50,306.5 272.75,309.6 273.00,312.8 273.25,315.8 273.50,318.2 273.75,319.2 274.00,318.5 274.25,316.4 274.50,313.5 274.75,310.3 275.00,307.2 275.25,304.2 275.50,301.5 275.75,299.0 276.00,296.7 276.25,294.6 276.50,292.7 276.75,290.9 277.00,289.2 278.00,283.4 279.00,278.9 280.00,275.1 281.00,272.0 282.00,269.3 283.00,267.0 284.00,265.0 285.00,263.2 286.00,261.6 287.00,260.3 288.00,259.0 289.00,258.0 290.00,257.1 291.00,256.3 292.00,255.6 293.00,255.0 294.00,254.6 295.00,254.2 296.00,253.9 297.00,253.8 298.00,253.7 299.00,253.7 300.00,253.9 301.00,254.1 302.00,254.4 303.00,254.8 304.00,255.3 305.00,255.9 306.00,256.7 307.00,257.5 308.00,258.5 309.00,259.7 310.00,261.0 311.00,262.4 312.00,264.1 313.00,266.0 314.00,268.2 315.00,270.7 316.00,273.6 317.00,277.0 318.00,281.2 319.00,286.3 320.00,292.8 320.25,294.8 320.50,296.9 320.75,299.3 321.00,301.8 321.25,304.5 321.50,307.5 321.75,310.6 322.00,313.8 322.25,316.7 322.50,318.7 322.75,319.2 323.00,318.0 323.25,315.5 323.50,312.5 323.75,309.3 324.00,306.2 324.25,303.4 324.50,300.7 324.75,298.3 325.00,296.0 325.25,294.0 325.50,292.1 325.75,290.3 326.75,284.3 327.75,279.6 328.75,275.7 329.75,272.5 330.75,269.7 331.75,267.4 332.75,265.3 333.75,263.5 334.75,261.9 335.75,260.5 336.75,259.2 337.75,258.2 338.75,257.2 339.75,256.4 340.75,255.7 341.75,255.1 342.75,254.6 343.75,254.3 344.75,254.0 345.75,253.8 346.75,253.7 347.75,253.7 348.75,253.8 349.75,254.0 350.75,254.3 351.75,254.7 352.75,255.2 353.75,255.8 354.75,256.5 355.75,257.4 356.75,258.3 357.75,259.5 358.75,260.7 359.75,262.2 360.75,263.8 361.75,265.7 362.75,267.8 363.75,270.2 364.75,273.1 365.75,276.4 366.75,280.4 367.75,285.3 368.75,291.6 369.00,293.5 369.25,295.5 369.50,297.7 369.75,300.0 370.00,302.6 370.25,305.4 370.50,308.5 370.75,311.6 371.00,314.8 371.25,317.4 371.50,319.0 371.75,319.0 372.00,317.3 372.25,314.6 372.50,311.5 372.75,308.3 373.00,305.3 373.25,302.5 373.50,299.9 373.75,297.5 374.00,295.4 374.25,293.4 374.50,291.5 374.75,289.8 375.75,283.9 376.75,279.3 377.75,275.5 378.75,272.3 379.75,269.5 380.75,267.2 381.75,265.1 382.75,263.3 383.75,261.8 384.75,260.4 385.75,259.1 386.75,258.1 387.75,257.1 388.75,256.3 389.75,255.6 390.75,255.1 391.75,254.6 392.75,254.2 393.75,254.0 394.75,253.8 395.75,253.7 396.75,253.7 397.75,253.8 398.75,254.0 399.75,254.3 400.75,254.8 401.75,255.3 402.75,255.9 403.75,256.6 404.75,257.4 405.75,258.4 406.75,259.6 407.75,260.8 408.75,262.3 409.75,263.9 410.75,265.8 411.75,268.0 412.75,270.4 413.75,273.3 414.75,276.7 415.75,280.7 416.75,285.8 417.75,292.2 418.00,294.1 418.25,296.2 418.50,298.4 418.75,300.8 419.00,303.5 419.25,306.4 419.50,309.5 419.75,312.7 420.00,315.7 420.25,318.1 420.50,319.2 420.75,318.6 421.00,316.5 421.25,313.6 421.50,310.4 421.75,307.3 422.00,304.4 422.25,301.6 422.50,299.1 422.75,296.8 423.00,294.7 423.25,292.7 423.50,290.9 423.75,289.2 424.75,283.5 425.75,278.9 426.75,275.2 427.75,272.0 428.75,269.3 429.75,267.0 430.75,265.0 431.75,263.2 432.75,261.6 433.75,260.3 434.75,259.1 435.75,258.0 436.75,257.1 437.75,256.3 438.75,255.6 439.75,255.0 440.75,254.6 441.75,254.2 442.75,253.9 443.75,253.8 444.75,253.7 445.75,253.7 446.75,253.9 447.75,254.1 448.75,254.4 449.75,254.8 450.75,255.3 451.75,255.9 452.75,256.7 453.75,257.5 454.75,258.5 455.75,259.6 456.75,260.9 457.75,262.4 458.75,264.1 459.75,266.0 460.75,268.1 461.75,270.6 462.75,273.6 463.75,277.0 464.75,281.1 465.75,286.2 466.75,292.8 467.00,294.7 467.25,296.9 467.50,299.2 467.75,301.7 468.00,304.4 468.25,307.4 468.50,310.5 468.75,313.7 469.00,316.6 469.25,318.6 469.50,319.2 469.75,318.1 470.00,315.6 470.25,312.6 470.50,309.4 470.75,306.3 471.00,303.5 471.25,300.8 471.50,298.4 471.75,296.1 472.00,294.1 472.25,292.1 472.50,290.4 473.50,284.4 474.50,279.6 475.50,275.8 476.50,272.5 477.50,269.8 478.50,267.4 479.50,265.3 480.50,263.5 481.50,261.9 482.50,260.5 483.50,259.3 484.50,258.2 485.50,257.2 486.50,256.4 487.50,255.7 488.50,255.1 489.50,254.6 490.50,254.3 491.50,254.0 492.50,253.8 493.50,253.7 494.50,253.7 495.50,253.8 496.50,254.0 497.50,254.3 498.50,254.7 499.50,255.2 500.50,255.8 501.50,256.5 502.50,257.4 503.50,258.3 504.50,259.4 505.50,260.7 506.50,262.1 507.50,263.8 508.50,265.6 509.50,267.8 510.50,270.2 511.50,273.0 512.50,276.4 513.50,280.3 514.50,285.3 515.50,291.5 515.75,293.4 516.00,295.4 516.25,297.6 516.50,299.9 516.75,302.5 517.00,305.3 517.25,308.3 517.50,311.5 517.75,314.6 518.00,317.3 518.25,319.0 518.50,319.0 518.75,317.4 519.00,314.7 519.25,311.6 519.50,308.4 519.75,305.4 520.00,302.6 520.25,300.0 520.50,297.6 520.75,295.4 521.00,293.4 521.25,291.6 521.50,289.8 522.50,284.0 523.50,279.3 524.50,275.5 525.50,272.3 526.50,269.6 527.50,267.2 528.50,265.2 529.50,263.4 530.50,261.8 531.50,260.4 532.50,259.2 533.50,258.1 534.50,257.2 535.50,256.3 536.50,255.7 537.50,255.1 538.50,254.6 539.50,254.2 540.50,254.0 541.50,253.8 542.50,253.7 543.50,253.7 544.50,253.8 545.50,254.0 546.50,254.3 547.50,254.7 548.50,255.3 549.50,255.9 550.50,256.6 551.50,257.4 552.50,258.4 553.50,259.5 554.50,260.8 555.50,262.3 556.50,263.9 557.50,265.8 558.50,267.9 559.50,270.4 560.50,273.3 561.50,276.6 562.50,280.7 563.50,285.7 564.50,292.1 564.75,294.0 565.00,296.1 565.25,298.3 565.50,300.7 565.75,303.4 566.00,306.3 566.25,309.3 566.50,312.5 566.75,315.6 567.00,318.0 567.25,319.2 567.50,318.6 567.75,316.6 568.00,313.7 568.25,310.6 568.50,307.4 568.75,304.5 569.00,301.7 569.25,299.2 569.50,296.9 569.75,294.8 570.00,292.8 570.25,291.0 570.50,289.3 571.50,283.5 572.50,279.0 573.50,275.2 574.50,272.1 575.50,269.4 576.50,267.0 577.50,265.0 578.50,263.2 579.50,261.7 580.50,260.3 581.50,259.1 582.50,258.0 583.50,257.1 584.50,256.3 585.50,255.6 586.50,255.0 587.50,254.6 588.50,254.2 589.50,253.9 590.50,253.8 591.50,253.7 592.50,253.7 593.50,253.9 594.50,254.1 595.50,254.4 596.50,254.8 597.50,255.3 598.50,255.9 599.50,256.7 600.50,257.5 601.50,258.5 602.50,259.6 603.50,260.9 604.50,262.4 605.50,264.1 606.50,266.0 607.50,268.1 608.50,270.6 609.50,273.5 610.50,276.9 611.50,281.1 612.50,286.1 613.50,292.7 613.75,294.7 614.00,296.8 614.25,299.1 614.50,301.6 614.75,304.3 615.00,307.2 615.25,310.4 615.50,313.5 615.75,316.5 616.00,318.6 616.25,319.2 616.50,318.1 616.75,315.8 617.00,312.7 617.25,309.5 617.50,306.5 617.75,303.6 618.00,300.9 618.25,298.5 618.50,296.2 618.75,294.1 619.00,292.2 619.25,290.4 620.25,284.4 621.25,279.7 622.25,275.8 623.25,272.6 624.25,269.8 625.25,267.4 626.25,265.3 627.25,263.5 628.25,261.9 629.25,260.5 630.25,259.3 631.25,258.2 632.25,257.2 633.25,256.4 634.25,255.7 635.25,255.1 636.25,254.6 637.25,254.3 638.25,254.0 639.25,253.8 640.25,253.7 641.25,253.7 642.25,253.8 643.25,254.0 644.25,254.3 645.25,254.7 646.25,255.2 647.25,255.8 648.25,256.5 649.25,257.4 650.25,258.3 651.25,259.4 652.25,260.7 653.25,262.1 654.25,263.8 655.25,265.6 656.25,267.7 657.25,270.2 658.25,273.0 659.25,276.3 660.25,280.3 661.25,285.2 662.25,291.4 662.50,293.3 662.75,295.3 663.00,297.5 663.25,299.8 663.50,302.4 663.75,305.2 664.00,308.2 664.25,311.4 664.50,314.5 664.75,317.2 665.00,318.9 665.25,319.0 665.50,317.5 665.75,314.8 666.00,311.7 666.25,308.5 666.50,305.5 666.75,302.7 667.00,300.1 667.25,297.7 667.50,295.5 667.75,293.5 668.00,291.6 668.25,289.9 669.25,284.0 670.25,279.3 671.25,275.5 672.25,272.3 673.25,269.6 674.25,267.2 675.25,265.2 676.25,263.4 677.25,261.8 678.25,260.4 679.25,259.2 680.25,258.1 681.25,257.2 682.25,256.4 683.25,255.7 684.25,255.1 685.25,254.6 686.25,254.2 687.25,254.0 688.25,253.8 689.25,253.7" stroke="url(#g34)" stroke-width="2.1"/>
<path d="M132.00,363.4 133.00,363.6 134.00,363.9 135.00,364.3 136.00,364.9 137.00,365.5 138.00,366.2 139.00,367.1 140.00,368.1 141.00,369.3 142.00,370.6 143.00,372.0 144.00,373.7 145.00,375.7 146.00,377.9 147.00,380.4 148.00,383.3 149.00,386.8 150.00,391.0 151.00,396.2 152.00,403.0 152.25,405.0 152.50,407.2 152.75,409.5 153.00,412.1 153.25,414.9 153.50,418.0 153.75,421.1 154.00,424.3 154.25,426.9 154.50,428.5 154.75,428.5 155.00,426.8 155.25,424.1 155.50,421.0 155.75,417.8 156.00,414.8 156.25,412.0 156.50,409.4 156.75,407.0 157.00,404.9 157.25,402.9 157.50,401.0 157.75,399.3 158.75,393.4 159.75,388.8 160.75,385.0 161.75,381.8 162.75,379.0 163.75,376.7 164.75,374.6 165.75,372.8 166.75,371.3 167.75,369.9 168.75,368.6 169.75,367.6 170.75,366.6 171.75,365.8 172.75,365.1 173.75,364.6 174.75,364.1 175.75,363.7 176.75,363.5 177.75,363.3 178.75,363.2 179.75,363.2 180.75,363.3 181.75,363.5 182.75,363.8 183.75,364.3 184.75,364.8 185.75,365.4 186.75,366.1 187.75,366.9 188.75,367.9 189.75,369.1 190.75,370.3 191.75,371.8 192.75,373.4 193.75,375.3 194.75,377.5 195.75,379.9 196.75,382.8 197.75,386.2 198.75,390.2 199.75,395.3 200.75,401.7 201.00,403.6 201.25,405.7 201.50,407.9 201.75,410.3 202.00,413.0 202.25,415.9 202.50,419.0 202.75,422.2 203.00,425.2 203.25,427.6 203.50,428.7 203.75,428.1 204.00,426.0 204.25,423.1 204.50,419.9 204.75,416.8 205.00,413.9 205.25,411.1 205.50,408.6 205.75,406.3 206.00,404.2 206.25,402.2 206.50,400.4 206.75,398.7 207.75,393.0 208.75,388.4 209.75,384.7 210.75,381.5 211.75,378.8 212.75,376.5 213.75,374.5 214.75,372.7 215.75,371.1 216.75,369.8 217.75,368.6 218.75,367.5 219.75,366.6 220.75,365.8 221.75,365.1 222.75,364.5 223.75,364.1 224.75,363.7 225.75,363.4 226.75,363.3 227.75,363.2 228.75,363.2 229.75,363.4 230.75,363.6 231.75,363.9 232.75,364.3 233.75,364.8 234.75,365.4 235.75,366.2 236.75,367.0 237.75,368.0 238.75,369.1 239.75,370.4 240.75,371.9 241.75,373.6 242.75,375.5 243.75,377.6 244.75,380.1 245.75,383.1 246.75,386.5 247.75,390.6 248.75,395.7 249.75,402.3 250.00,404.2 250.25,406.4 250.50,408.7 250.75,411.2 251.00,413.9 251.25,416.9 251.50,420.0 251.75,423.2 252.00,426.1 252.25,428.1 252.50,428.7 252.75,427.6 253.00,425.1 253.25,422.1 253.50,418.9 253.75,415.8 254.00,413.0 254.25,410.3 254.50,407.9 254.75,405.6 255.00,403.6 255.25,401.6 255.50,399.9 256.50,393.9 257.50,389.1 258.50,385.3 259.50,382.0 260.50,379.3 261.50,376.9 262.50,374.8 263.50,373.0 264.50,371.4 265.50,370.0 266.50,368.8 267.50,367.7 268.50,366.7 269.50,365.9 270.50,365.2 271.50,364.6 272.50,364.1 273.50,363.8 274.50,363.5 275.50,363.3 276.50,363.2 277.50,363.2 278.50,363.3 279.50,363.5 280.50,363.8 281.50,364.2 282.50,364.7 283.50,365.3 284.50,366.0 285.50,366.9 286.50,367.8 287.50,368.9 288.50,370.2 289.50,371.6 290.50,373.3 291.50,375.1 292.50,377.3 293.50,379.7 294.50,382.5 295.50,385.9 296.50,389.8 297.50,394.8 298.50,401.0 298.75,402.9 299.00,404.9 299.25,407.1 299.50,409.4 299.75,412.0 300.00,414.8 300.25,417.8 300.50,421.0 300.75,424.1 301.00,426.8 301.25,428.5 301.50,428.5 301.75,426.9 302.00,424.2 302.25,421.1 302.50,417.9 302.75,414.9 303.00,412.1 303.25,409.5 303.50,407.1 303.75,404.9 304.00,402.9 304.25,401.1 304.50,399.3 305.50,393.5 306.50,388.8 307.50,385.0 308.50,381.8 309.50,379.1 310.50,376.7 311.50,374.7 312.50,372.9 313.50,371.3 314.50,369.9 315.50,368.7 316.50,367.6 317.50,366.7 318.50,365.8 319.50,365.2 320.50,364.6 321.50,364.1 322.50,363.7 323.50,363.5 324.50,363.3 325.50,363.2 326.50,363.2 327.50,363.3 328.50,363.5 329.50,363.8 330.50,364.2 331.50,364.8 332.50,365.4 333.50,366.1 334.50,366.9 335.50,367.9 336.50,369.0 337.50,370.3 338.50,371.8 339.50,373.4 340.50,375.3 341.50,377.4 342.50,379.9 343.50,382.8 344.50,386.1 345.50,390.2 346.50,395.2 347.50,401.6 347.75,403.5 348.00,405.6 348.25,407.8 348.50,410.2 348.75,412.9 349.00,415.8 349.25,418.8 349.50,422.0 349.75,425.1 350.00,427.5 350.25,428.7 350.50,428.1 350.75,426.1 351.00,423.2 351.25,420.1 351.50,416.9 351.75,414.0 352.00,411.2 352.25,408.7 352.50,406.4 352.75,404.3 353.00,402.3 353.25,400.5 353.50,398.8 354.50,393.0 355.50,388.5 356.50,384.7 357.50,381.6 358.50,378.9 359.50,376.5 360.50,374.5 361.50,372.7 362.50,371.2 363.50,369.8 364.50,368.6 365.50,367.5 366.50,366.6 367.50,365.8 368.50,365.1 369.50,364.5 370.50,364.1 371.50,363.7 372.50,363.4 373.50,363.3 374.50,363.2 375.50,363.2 376.50,363.4 377.50,363.6 378.50,363.9 379.50,364.3 380.50,364.8 381.50,365.4 382.50,366.2 383.50,367.0 384.50,368.0 385.50,369.1 386.50,370.4 387.50,371.9 388.50,373.6 389.50,375.5 390.50,377.6 391.50,380.1 392.50,383.0 393.50,386.4 394.50,390.6 395.50,395.6 396.50,402.2 396.75,404.2 397.00,406.3 397.25,408.6 397.50,411.1 397.75,413.8 398.00,416.7 398.25,419.9 398.50,423.0 398.75,426.0 399.00,428.1 399.25,428.7 399.50,427.6 399.75,425.3 400.00,422.2 400.25,419.0 400.50,416.0 400.75,413.1 401.00,410.4 401.25,408.0 401.50,405.7 401.75,403.6 402.00,401.7 402.25,399.9 403.25,393.9 404.25,389.2 405.25,385.3 406.25,382.1 407.25,379.3 408.25,376.9 409.25,374.8 410.25,373.0 411.25,371.4 412.25,370.0 413.25,368.8 414.25,367.7 415.25,366.7 416.25,365.9 417.25,365.2 418.25,364.6 419.25,364.1 420.25,363.8 421.25,363.5 422.25,363.3 423.25,363.2 424.25,363.2 425.25,363.3 426.25,363.5 427.25,363.8 428.25,364.2 429.25,364.7 430.25,365.3 431.25,366.0 432.25,366.9 433.25,367.8 434.25,368.9 435.25,370.2 436.25,371.6 437.25,373.3 438.25,375.1 439.25,377.2 440.25,379.7 441.25,382.5 442.25,385.8 443.25,389.8 444.25,394.7 445.25,400.9 445.50,402.8 445.75,404.8 446.00,407.0 446.25,409.3 446.50,411.9 446.75,414.7 447.00,417.7 447.25,420.9 447.50,424.0 447.75,426.7 448.00,428.4 448.25,428.5 448.50,427.0 448.75,424.3 449.00,421.2 449.25,418.0 449.50,415.0 449.75,412.2 450.00,409.6 450.25,407.2 450.50,405.0 450.75,403.0 451.00,401.1 451.25,399.4 452.25,393.5 453.25,388.8 454.25,385.0 455.25,381.8 456.25,379.1 457.25,376.7 458.25,374.7 459.25,372.9 460.25,371.3 461.25,369.9 462.25,368.7 463.25,367.6 464.25,366.7 465.25,365.9 466.25,365.2 467.25,364.6 468.25,364.1 469.25,363.7 470.25,363.5 471.25,363.3 472.25,363.2 473.25,363.2 474.25,363.3 475.25,363.5 476.25,363.8 477.25,364.2 478.25,364.7 479.25,365.4 480.25,366.1 481.25,366.9 482.25,367.9 483.25,369.0 484.25,370.3 485.25,371.8 486.25,373.4 487.25,375.3 488.25,377.4 489.25,379.9 490.25,382.7 491.25,386.1 492.25,390.2 493.25,395.1 494.25,401.5 494.50,403.4 494.75,405.5 495.00,407.7 495.25,410.1 495.50,412.8 495.75,415.7 496.00,418.7 496.25,421.9 496.50,425.0 496.75,427.4 497.00,428.7 497.25,428.2 497.50,426.2 497.75,423.4 498.00,420.2 498.25,417.1 498.50,414.1 498.75,411.3 499.00,408.8 499.25,406.5 499.50,404.4 499.75,402.4 500.00,400.6 500.25,398.9 501.25,393.1 502.25,388.5 503.25,384.7 504.25,381.6 505.25,378.9 506.25,376.6 507.25,374.5 508.25,372.7 509.25,371.2 510.25,369.8 511.25,368.6 512.25,367.5 513.25,366.6 514.25,365.8 515.25,365.1 516.25,364.5 517.25,364.1 518.25,363.7 519.25,363.5 520.25,363.3 521.25,363.2 522.25,363.2 523.25,363.3 524.25,363.6 525.25,363.9 526.25,364.3 527.25,364.8 528.25,365.4 529.25,366.1 530.25,367.0 531.25,368.0 532.25,369.1 533.25,370.4 534.25,371.9 535.25,373.5 536.25,375.4 537.25,377.6 538.25,380.1 539.25,383.0 540.25,386.4 541.25,390.5 542.25,395.6 543.25,402.1 543.50,404.1 543.75,406.2 544.00,408.5 544.25,411.0 544.50,413.7 544.75,416.6 545.00,419.7 545.25,422.9 545.50,425.8 545.75,428.0 546.00,428.7 546.25,427.7 546.50,425.4 546.75,422.4 547.00,419.2 547.25,416.1 547.50,413.2 547.75,410.5 548.00,408.1 548.25,405.8 548.50,403.7 548.75,401.8 549.00,400.0 550.00,394.0 551.00,389.2 552.00,385.3 553.00,382.1 554.00,379.3 555.00,376.9 556.00,374.9 557.00,373.0 558.00,371.4 559.00,370.0 560.00,368.8 561.00,367.7 562.00,366.7 563.00,365.9 564.00,365.2 565.00,364.6 566.00,364.1 567.00,363.8 568.00,363.5 569.00,363.3 570.00,363.2 571.00,363.2 572.00,363.3 573.00,363.5 574.00,363.8 575.00,364.2 576.00,364.7 577.00,365.3 578.00,366.0 579.00,366.9 580.00,367.8 581.00,368.9 582.00,370.2 583.00,371.6 584.00,373.2 585.00,375.1 586.00,377.2 587.00,379.6 588.00,382.5 589.00,385.8 590.00,389.8 591.00,394.6 592.00,400.9 592.25,402.7 592.50,404.7 592.75,406.9 593.00,409.2 593.25,411.8 593.50,414.6 593.75,417.6 594.00,420.8 594.25,423.9 594.50,426.7 594.75,428.4 595.00,428.6 595.25,427.1 595.50,424.4 595.75,421.3 596.00,418.2 596.25,415.1 596.50,412.3 596.75,409.7 597.00,407.3 597.25,405.1 597.50,403.1 597.75,401.2 598.00,399.5 599.00,393.6 600.00,388.9 601.00,385.1 602.00,381.9 603.00,379.1 604.00,376.8 605.00,374.7 606.00,372.9 607.00,371.3 608.00,369.9 609.00,368.7 610.00,367.6 611.00,366.7 612.00,365.9 613.00,365.2 614.00,364.6 615.00,364.1 616.00,363.7 617.00,363.5 618.00,363.3 619.00,363.2 620.00,363.2 621.00,363.3 622.00,363.5 623.00,363.8 624.00,364.2 625.00,364.7 626.00,365.4 627.00,366.1 628.00,366.9 629.00,367.9 630.00,369.0 631.00,370.3 632.00,371.7 633.00,373.4 634.00,375.3 635.00,377.4 636.00,379.9 637.00,382.7 638.00,386.1 639.00,390.1 640.00,395.1 641.00,401.5 641.25,403.4 641.50,405.4 641.75,407.6 642.00,410.0 642.25,412.7 642.50,415.5 642.75,418.6 643.00,421.8 643.25,424.8 643.50,427.4 643.75,428.7 644.00,428.3 644.25,426.3 644.50,423.5 644.75,420.3 645.00,417.2 645.25,414.2 645.50,411.4 645.75,408.9 646.00,406.6 646.25,404.4 646.50,402.5 646.75,400.6 647.00,398.9 648.00,393.1 649.00,388.6 650.00,384.8 651.00,381.6 652.00,378.9 653.00,376.6 654.00,374.5 655.00,372.8 656.00,371.2 657.00,369.8 658.00,368.6 659.00,367.5 660.00,366.6 661.00,365.8 662.00,365.1 663.00,364.5 664.00,364.1 665.00,363.7 666.00,363.5 667.00,363.3 668.00,363.2 669.00,363.2 670.00,363.3 671.00,363.6 672.00,363.9 673.00,364.3 674.00,364.8 675.00,365.4 676.00,366.1 677.00,367.0 678.00,368.0 679.00,369.1 680.00,370.4 681.00,371.9 682.00,373.5 683.00,375.4 684.00,377.6 685.00,380.1 686.00,383.0 687.00,386.4 688.00,390.5 689.00,395.5 690.00,402.0" stroke="url(#g32)" stroke-width="2.1"/>
<path d="M132.00,503.5 133.00,497.7 134.00,493.1 135.00,489.3 136.00,486.2 137.00,483.5 138.00,481.2 139.00,479.1 140.00,477.3 141.00,475.8 142.00,474.4 143.00,473.2 144.00,472.1 145.00,471.2 146.00,470.4 147.00,469.7 148.00,469.1 149.00,468.7 150.00,468.3 151.00,468.1 152.00,467.9 153.00,467.8 154.00,467.8 155.00,467.9 156.00,468.2 157.00,468.5 158.00,468.9 159.00,469.4 160.00,470.0 161.00,470.7 162.00,471.6 163.00,472.6 164.00,473.7 165.00,475.0 166.00,476.5 167.00,478.1 168.00,480.0 169.00,482.2 170.00,484.7 171.00,487.6 172.00,491.0 173.00,495.1 174.00,500.2 175.00,506.7 175.25,508.7 175.50,510.8 175.75,513.1 176.00,515.6 176.25,518.3 176.50,521.2 176.75,524.3 177.00,527.5 177.25,530.4 177.50,532.6 177.75,533.3 178.00,532.3 178.25,530.0 178.50,527.0 178.75,523.8 179.00,520.7 179.25,517.8 179.50,515.1 179.75,512.7 180.00,510.4 180.25,508.3 180.50,506.4 180.75,504.6 181.75,498.6 182.75,493.8 183.75,489.9 184.75,486.7 185.75,483.9 186.75,481.5 187.75,479.5 188.75,477.6 189.75,476.0 190.75,474.6 191.75,473.4 192.75,472.3 193.75,471.3 194.75,470.5 195.75,469.8 196.75,469.2 197.75,468.7 198.75,468.4 199.75,468.1 200.75,467.9 201.75,467.8 202.75,467.8 203.75,467.9 204.75,468.1 205.75,468.4 206.75,468.8 207.75,469.3 208.75,469.9 209.75,470.6 210.75,471.5 211.75,472.4 212.75,473.5 213.75,474.8 214.75,476.2 215.75,477.8 216.75,479.7 217.75,481.8 218.75,484.2 219.75,487.1 220.75,490.4 221.75,494.4 222.75,499.2 223.75,505.5 224.00,507.3 224.25,509.3 224.50,511.5 224.75,513.8 225.00,516.4 225.25,519.2 225.50,522.2 225.75,525.4 226.00,528.5 226.25,531.3 226.50,533.0 226.75,533.2 227.00,531.7 227.25,529.0 227.50,525.9 227.75,522.8 228.00,519.7 228.25,516.9 228.50,514.3 228.75,511.9 229.00,509.7 229.25,507.7 229.50,505.8 229.75,504.1 230.75,498.2 231.75,493.5 232.75,489.7 233.75,486.5 234.75,483.7 235.75,481.4 236.75,479.3 237.75,477.5 238.75,475.9 239.75,474.5 240.75,473.3 241.75,472.2 242.75,471.3 243.75,470.5 244.75,469.8 245.75,469.2 246.75,468.7 247.75,468.3 248.75,468.1 249.75,467.9 250.75,467.8 251.75,467.8 252.75,467.9 253.75,468.1 254.75,468.4 255.75,468.8 256.75,469.3 257.75,470.0 258.75,470.7 259.75,471.5 260.75,472.5 261.75,473.6 262.75,474.9 263.75,476.3 264.75,478.0 265.75,479.9 266.75,482.0 267.75,484.5 268.75,487.3 269.75,490.7 270.75,494.7 271.75,499.7 272.75,506.1 273.00,508.0 273.25,510.0 273.50,512.2 273.75,514.6 274.00,517.3 274.25,520.1 274.50,523.2 274.75,526.4 275.00,529.4 275.25,532.0 275.50,533.3 275.75,532.9 276.00,530.9 276.25,528.1 276.50,524.9 276.75,521.8 277.00,518.8 277.25,516.0 277.50,513.5 277.75,511.2 278.00,509.0 278.25,507.1 278.50,505.2 278.75,503.5 279.75,497.7 280.75,493.2 281.75,489.4 282.75,486.2 283.75,483.5 284.75,481.2 285.75,479.1 286.75,477.4 287.75,475.8 288.75,474.4 289.75,473.2 290.75,472.1 291.75,471.2 292.75,470.4 293.75,469.7 294.75,469.1 295.75,468.7 296.75,468.3 297.75,468.1 298.75,467.9 299.75,467.8 300.75,467.8 301.75,467.9 302.75,468.2 303.75,468.5 304.75,468.9 305.75,469.4 306.75,470.0 307.75,470.7 308.75,471.6 309.75,472.6 310.75,473.7 311.75,475.0 312.75,476.5 313.75,478.1 314.75,480.0 315.75,482.2 316.75,484.7 317.75,487.6 318.75,491.0 319.75,495.1 320.75,500.1 321.75,506.6 322.00,508.6 322.25,510.7 322.50,513.0 322.75,515.5 323.00,518.2 323.25,521.1 323.50,524.2 323.75,527.4 324.00,530.3 324.25,532.5 324.50,533.3 324.75,532.4 325.00,530.1 325.25,527.1 325.50,523.9 325.75,520.8 326.00,517.9 326.25,515.2 326.50,512.7 326.75,510.5 327.00,508.4 327.25,506.5 327.50,504.7 328.50,498.6 329.50,493.9 330.50,490.0 331.50,486.7 332.50,483.9 333.50,481.6 334.50,479.5 335.50,477.6 336.50,476.0 337.50,474.6 338.50,473.4 339.50,472.3 340.50,471.3 341.50,470.5 342.50,469.8 343.50,469.2 344.50,468.8 345.50,468.4 346.50,468.1 347.50,467.9 348.50,467.8 349.50,467.8 350.50,467.9 351.50,468.1 352.50,468.4 353.50,468.8 354.50,469.3 355.50,469.9 356.50,470.6 357.50,471.4 358.50,472.4 359.50,473.5 360.50,474.8 361.50,476.2 362.50,477.8 363.50,479.7 364.50,481.8 365.50,484.2 366.50,487.0 367.50,490.3 368.50,494.3 369.50,499.2 370.50,505.4 370.75,507.3 371.00,509.2 371.25,511.4 371.50,513.7 371.75,516.3 372.00,519.1 372.25,522.1 372.50,525.2 372.75,528.4 373.00,531.2 373.25,533.0 373.50,533.2 373.75,531.8 374.00,529.2 374.25,526.1 374.50,522.9 374.75,519.8 375.00,517.0 375.25,514.4 375.50,512.0 375.75,509.8 376.00,507.8 376.25,505.9 376.50,504.1 377.50,498.2 378.50,493.5 379.50,489.7 380.50,486.5 381.50,483.7 382.50,481.4 383.50,479.3 384.50,477.5 385.50,475.9 386.50,474.5 387.50,473.3 388.50,472.2 389.50,471.3 390.50,470.5 391.50,469.8 392.50,469.2 393.50,468.7 394.50,468.3 395.50,468.1 396.50,467.9 397.50,467.8 398.50,467.8 399.50,467.9 400.50,468.1 401.50,468.4 402.50,468.8 403.50,469.3 404.50,469.9 405.50,470.7 406.50,471.5 407.50,472.5 408.50,473.6 409.50,474.9 410.50,476.3 411.50,478.0 412.50,479.8 413.50,482.0 414.50,484.4 415.50,487.3 416.50,490.6 417.50,494.7 418.50,499.6 419.50,506.0 419.75,507.9 420.00,509.9 420.25,512.1 420.50,514.5 420.75,517.2 421.00,520.0 421.25,523.1 421.50,526.2 421.75,529.3 422.00,531.9 422.25,533.2 422.50,532.9 422.75,531.0 423.00,528.2 423.25,525.0 423.50,521.9 423.75,518.9 424.00,516.2 424.25,513.6 424.50,511.3 424.75,509.1 425.00,507.1 425.25,505.3 425.50,503.6 426.50,497.8 427.50,493.2 428.50,489.4 429.50,486.2 430.50,483.5 431.50,481.2 432.50,479.2 433.50,477.4 434.50,475.8 435.50,474.4 436.50,473.2 437.50,472.1 438.50,471.2 439.50,470.4 440.50,469.7 441.50,469.2 442.50,468.7 443.50,468.3 444.50,468.1 445.50,467.9 446.50,467.8 447.50,467.8 448.50,467.9 449.50,468.2 450.50,468.5 451.50,468.9 452.50,469.4 453.50,470.0 454.50,470.7 455.50,471.6 456.50,472.6 457.50,473.7 458.50,475.0 459.50,476.4 460.50,478.1 461.50,480.0 462.50,482.2 463.50,484.6 464.50,487.5 465.50,490.9 466.50,495.0 467.50,500.1 468.50,506.6 468.75,508.5 469.00,510.6 469.25,512.9 469.50,515.4 469.75,518.1 470.00,521.0 470.25,524.1 470.50,527.3 470.75,530.2 471.00,532.5 471.25,533.3 471.50,532.4 471.75,530.2 472.00,527.2 472.25,524.0 472.50,520.9 472.75,518.0 473.00,515.3 473.25,512.8 473.50,510.6 473.75,508.5 474.00,506.5 474.25,504.7 475.25,498.7 476.25,493.9 477.25,490.0 478.25,486.8 479.25,484.0 480.25,481.6 481.25,479.5 482.25,477.7 483.25,476.1 484.25,474.6 485.25,473.4 486.25,472.3 487.25,471.4 488.25,470.5 489.25,469.8 490.25,469.2 491.25,468.8 492.25,468.4 493.25,468.1 494.25,467.9 495.25,467.8 496.25,467.8 497.25,467.9 498.25,468.1 499.25,468.4 500.25,468.8 501.25,469.3 502.25,469.9 503.25,470.6 504.25,471.4 505.25,472.4 506.25,473.5 507.25,474.8 508.25,476.2 509.25,477.8 510.25,479.7 511.25,481.8 512.25,484.2 513.25,487.0 514.25,490.3 515.25,494.3 516.25,499.1 517.25,505.3 517.50,507.2 517.75,509.2 518.00,511.3 518.25,513.7 518.50,516.2 518.75,519.0 519.00,521.9 519.25,525.1 519.50,528.3 519.75,531.1 520.00,532.9 520.25,533.2 520.50,531.8 520.75,529.3 521.00,526.2 521.25,523.0 521.50,520.0 521.75,517.1 522.00,514.5 522.25,512.1 522.50,509.9 522.75,507.8 523.00,506.0 523.25,504.2 524.25,498.3 525.25,493.6 526.25,489.7 527.25,486.5 528.25,483.8 529.25,481.4 530.25,479.3 531.25,477.5 532.25,475.9 533.25,474.5 534.25,473.3 535.25,472.2 536.25,471.3 537.25,470.5 538.25,469.8 539.25,469.2 540.25,468.7 541.25,468.4 542.25,468.1 543.25,467.9 544.25,467.8 545.25,467.8 546.25,467.9 547.25,468.1 548.25,468.4 549.25,468.8 550.25,469.3 551.25,469.9 552.25,470.7 553.25,471.5 554.25,472.5 555.25,473.6 556.25,474.9 557.25,476.3 558.25,477.9 559.25,479.8 560.25,481.9 561.25,484.4 562.25,487.3 563.25,490.6 564.25,494.6 565.25,499.6 566.25,505.9 566.50,507.8 566.75,509.8 567.00,512.0 567.25,514.4 567.50,517.1 567.75,519.9 568.00,522.9 568.25,526.1 568.50,529.2 568.75,531.8 569.00,533.2 569.25,532.9 569.50,531.1 569.75,528.3 570.00,525.2 570.25,522.0 570.50,519.0 570.75,516.3 571.00,513.7 571.25,511.4 571.50,509.2 571.75,507.2 572.00,505.4 572.25,503.7 573.25,497.8 574.25,493.2 575.25,489.5 576.25,486.3 577.25,483.6 578.25,481.2 579.25,479.2 580.25,477.4 581.25,475.8 582.25,474.4 583.25,473.2 584.25,472.1 585.25,471.2 586.25,470.4 587.25,469.7 588.25,469.2 589.25,468.7 590.25,468.3 591.25,468.1 592.25,467.9 593.25,467.8 594.25,467.8 595.25,467.9 596.25,468.2 597.25,468.5 598.25,468.9 599.25,469.4 600.25,470.0 601.25,470.7 602.25,471.6 603.25,472.6 604.25,473.7 605.25,475.0 606.25,476.4 607.25,478.1 608.25,480.0 609.25,482.1 610.25,484.6 611.25,487.5 612.25,490.9 613.25,495.0 614.25,500.0 615.25,506.5 615.50,508.4 615.75,510.5 616.00,512.8 616.25,515.3 616.50,517.9 616.75,520.8 617.00,524.0 617.25,527.1 617.50,530.1 617.75,532.4 618.00,533.3 618.25,532.5 618.50,530.3 618.75,527.3 619.00,524.2 619.25,521.0 619.50,518.1 619.75,515.4 620.00,512.9 620.25,510.7 620.50,508.6 620.75,506.6 621.00,504.8 621.25,503.1 622.25,497.4 623.25,492.9 624.25,489.2 625.25,486.0 626.25,483.4 627.25,481.1 628.25,479.0 629.25,477.3 630.25,475.7 631.25,474.3 632.25,473.1 633.25,472.1 634.25,471.1 635.25,470.4 636.25,469.7 637.25,469.1 638.25,468.7 639.25,468.3 640.25,468.0 641.25,467.9 642.25,467.8 643.25,467.8 644.25,468.0 645.25,468.2 646.25,468.5 647.25,468.9 648.25,469.4 649.25,470.0 650.25,470.8 651.25,471.7 652.25,472.6 653.25,473.8 654.25,475.1 655.25,476.6 656.25,478.2 657.25,480.1 658.25,482.3 659.25,484.8 660.25,487.7 661.25,491.2 662.25,495.3 663.25,500.5 664.25,507.1 664.50,509.1 664.75,511.2 665.00,513.6 665.25,516.1 665.50,518.8 665.75,521.8 666.00,525.0 666.25,528.1 666.50,531.0 666.75,532.9 667.00,533.2 667.25,531.9 667.50,529.4 667.75,526.3 668.00,523.1 668.25,520.1 668.50,517.2 668.75,514.6 669.00,512.2 669.25,510.0 669.50,507.9 669.75,506.0 670.00,504.3 671.00,498.3 672.00,493.6 673.00,489.8 674.00,486.5 675.00,483.8 676.00,481.4 677.00,479.4 678.00,477.5 679.00,476.0 680.00,474.5 681.00,473.3 682.00,472.2 683.00,471.3 684.00,470.5 685.00,469.8 686.00,469.2 687.00,468.7 688.00,468.4 689.00,468.1 690.00,467.9" stroke="url(#g30)" stroke-width="2.1"/>
<path d="M132.00,572.8 133.00,573.3 134.00,573.8 135.00,574.5 136.00,575.3 137.00,576.2 138.00,577.2 139.00,578.4 140.00,579.8 141.00,581.3 142.00,583.1 143.00,585.1 144.00,587.4 145.00,590.0 146.00,593.1 147.00,596.8 148.00,601.3 149.00,606.9 150.00,614.2 150.25,616.4 150.50,618.8 150.75,621.5 151.00,624.3 151.25,627.4 151.50,630.6 151.75,633.6 152.00,636.2 152.25,637.5 152.50,637.1 152.75,635.1 153.00,632.3 153.25,629.1 153.50,626.0 153.75,623.0 154.00,620.2 154.25,617.7 154.50,615.4 154.75,613.2 155.00,611.3 155.25,609.4 155.50,607.7 156.50,601.9 157.50,597.4 158.50,593.6 159.50,590.4 160.50,587.7 161.50,585.4 162.50,583.3 163.50,581.6 164.50,580.0 165.50,578.6 166.50,577.4 167.50,576.3 168.50,575.4 169.50,574.6 170.50,573.9 171.50,573.3 172.50,572.9 173.50,572.5 174.50,572.3 175.50,572.1 176.50,572.0 177.50,572.0 178.50,572.1 179.50,572.4 180.50,572.7 181.50,573.1 182.50,573.6 183.50,574.2 184.50,574.9 185.50,575.8 186.50,576.8 187.50,577.9 188.50,579.2 189.50,580.7 190.50,582.3 191.50,584.2 192.50,586.4 193.50,588.9 194.50,591.8 195.50,595.2 196.50,599.3 197.50,604.3 198.50,610.8 198.75,612.8 199.00,614.9 199.25,617.2 199.50,619.7 199.75,622.4 200.00,625.3 200.25,628.4 200.50,631.6 200.75,634.5 201.00,636.7 201.25,637.5 201.50,636.6 201.75,634.3 202.00,631.3 202.25,628.1 202.50,625.0 202.75,622.1 203.00,619.4 203.25,616.9 203.50,614.7 203.75,612.6 204.00,610.7 204.25,608.9 205.25,602.8 206.25,598.1 207.25,594.2 208.25,590.9 209.25,588.1 210.25,585.8 211.25,583.7 212.25,581.8 213.25,580.2 214.25,578.8 215.25,577.6 216.25,576.5 217.25,575.5 218.25,574.7 219.25,574.0 220.25,573.4 221.25,573.0 222.25,572.6 223.25,572.3 224.25,572.1 225.25,572.0 226.25,572.0 227.25,572.1 228.25,572.3 229.25,572.6 230.25,573.0 231.25,573.5 232.25,574.1 233.25,574.8 234.25,575.6 235.25,576.6 236.25,577.7 237.25,579.0 238.25,580.4 239.25,582.0 240.25,583.9 241.25,586.0 242.25,588.4 243.25,591.2 244.25,594.5 245.25,598.5 246.25,603.4 247.25,609.6 247.50,611.5 247.75,613.4 248.00,615.6 248.25,617.9 248.50,620.5 248.75,623.3 249.00,626.3 249.25,629.4 249.50,632.6 249.75,635.4 250.00,637.2 250.25,637.4 250.50,636.0 250.75,633.4 251.00,630.3 251.25,627.1 251.50,624.0 251.75,621.2 252.00,618.6 252.25,616.2 252.50,614.0 252.75,612.0 253.00,610.1 253.25,608.3 254.25,602.4 255.25,597.7 256.25,593.9 257.25,590.7 258.25,587.9 259.25,585.6 260.25,583.5 261.25,581.7 262.25,580.1 263.25,578.7 264.25,577.5 265.25,576.4 266.25,575.5 267.25,574.7 268.25,574.0 269.25,573.4 270.25,572.9 271.25,572.5 272.25,572.3 273.25,572.1 274.25,572.0 275.25,572.0 276.25,572.1 277.25,572.3 278.25,572.6 279.25,573.0 280.25,573.5 281.25,574.1 282.25,574.9 283.25,575.7 284.25,576.7 285.25,577.8 286.25,579.1 287.25,580.5 288.25,582.2 289.25,584.0 290.25,586.2 291.25,588.6 292.25,591.5 293.25,594.8 294.25,598.9 295.25,603.8 296.25,610.2 296.50,612.1 296.75,614.1 297.00,616.3 297.25,618.7 297.50,621.4 297.75,624.2 298.00,627.3 298.25,630.4 298.50,633.5 298.75,636.1 299.00,637.4 299.25,637.1 299.50,635.2 299.75,632.4 300.00,629.2 300.25,626.1 300.50,623.1 300.75,620.4 301.00,617.8 301.25,615.5 301.50,613.3 301.75,611.3 302.00,609.5 302.25,607.8 303.25,602.0 304.25,597.4 305.25,593.6 306.25,590.4 307.25,587.7 308.25,585.4 309.25,583.4 310.25,581.6 311.25,580.0 312.25,578.6 313.25,577.4 314.25,576.3 315.25,575.4 316.25,574.6 317.25,573.9 318.25,573.4 319.25,572.9 320.25,572.5 321.25,572.3 322.25,572.1 323.25,572.0 324.25,572.0 325.25,572.1 326.25,572.4 327.25,572.7 328.25,573.1 329.25,573.6 330.25,574.2 331.25,574.9 332.25,575.8 333.25,576.8 334.25,577.9 335.25,579.2 336.25,580.6 337.25,582.3 338.25,584.2 339.25,586.4 340.25,588.8 341.25,591.7 342.25,595.1 343.25,599.2 344.25,604.3 345.25,610.8 345.50,612.7 345.75,614.8 346.00,617.1 346.25,619.6 346.50,622.3 346.75,625.2 347.00,628.3 347.25,631.5 347.50,634.4 347.75,636.7 348.00,637.5 348.25,636.6 348.50,634.4 348.75,631.4 349.00,628.2 349.25,625.1 349.50,622.2 349.75,619.5 350.00,617.0 350.25,614.8 350.50,612.7 350.75,610.7 351.00,608.9 352.00,602.9 353.00,598.1 354.00,594.2 355.00,591.0 356.00,588.2 357.00,585.8 358.00,583.7 359.00,581.9 360.00,580.3 361.00,578.8 362.00,577.6 363.00,576.5 364.00,575.6 365.00,574.7 366.00,574.0 367.00,573.4 368.00,573.0 369.00,572.6 370.00,572.3 371.00,572.1 372.00,572.0 373.00,572.0 374.00,572.1 375.00,572.3 376.00,572.6 377.00,573.0 378.00,573.5 379.00,574.1 380.00,574.8 381.00,575.6 382.00,576.6 383.00,577.7 384.00,579.0 385.00,580.4 386.00,582.0 387.00,583.9 388.00,586.0 389.00,588.4 390.00,591.2 391.00,594.5 392.00,598.5 393.00,603.3 394.00,609.5 394.25,611.4 394.50,613.4 394.75,615.5 395.00,617.9 395.25,620.4 395.50,623.2 395.75,626.1 396.00,629.3 396.25,632.5 396.50,635.3 396.75,637.1 397.00,637.4 397.25,636.0 397.50,633.5 397.75,630.4 398.00,627.2 398.25,624.2 398.50,621.3 398.75,618.7 399.00,616.3 399.25,614.1 399.50,612.0 399.75,610.2 400.00,608.4 401.00,602.5 402.00,597.8 403.00,593.9 404.00,590.7 405.00,588.0 406.00,585.6 407.00,583.5 408.00,581.7 409.00,580.1 410.00,578.7 411.00,577.5 412.00,576.4 413.00,575.5 414.00,574.7 415.00,574.0 416.00,573.4 417.00,572.9 418.00,572.6 419.00,572.3 420.00,572.1 421.00,572.0 422.00,572.0 423.00,572.1 424.00,572.3 425.00,572.6 426.00,573.0 427.00,573.5 428.00,574.1 429.00,574.9 430.00,575.7 431.00,576.7 432.00,577.8 433.00,579.1 434.00,580.5 435.00,582.1 436.00,584.0 437.00,586.1 438.00,588.6 439.00,591.5 440.00,594.8 441.00,598.8 442.00,603.8 443.00,610.1 443.25,612.0 443.50,614.0 443.75,616.2 444.00,618.6 444.25,621.3 444.50,624.1 444.75,627.1 445.00,630.3 445.25,633.4 445.50,636.0 445.75,637.4 446.00,637.1 446.25,635.3 446.50,632.5 446.75,629.4 447.00,626.2 447.25,623.2 447.50,620.5 447.75,617.9 448.00,615.6 448.25,613.4 448.50,611.4 448.75,609.6 449.00,607.9 450.00,602.0 451.00,597.4 452.00,593.7 453.00,590.5 454.00,587.8 455.00,585.4 456.00,583.4 457.00,581.6 458.00,580.0 459.00,578.6 460.00,577.4 461.00,576.3 462.00,575.4 463.00,574.6 464.00,573.9 465.00,573.4 466.00,572.9 467.00,572.5 468.00,572.3 469.00,572.1 470.00,572.0 471.00,572.0 472.00,572.1 473.00,572.4 474.00,572.7 475.00,573.1 476.00,573.6 477.00,574.2 478.00,574.9 479.00,575.8 480.00,576.8 481.00,577.9 482.00,579.2 483.00,580.6 484.00,582.3 485.00,584.2 486.00,586.3 487.00,588.8 488.00,591.7 489.00,595.1 490.00,599.2 491.00,604.2 492.00,610.7 492.25,612.6 492.50,614.7 492.75,617.0 493.00,619.5 493.25,622.1 493.50,625.0 493.75,628.2 494.00,631.3 494.25,634.3 494.50,636.6 494.75,637.5 495.00,636.7 495.25,634.5 495.50,631.5 495.75,628.4 496.00,625.2 496.25,622.3 496.50,619.6 496.75,617.1 497.00,614.9 497.25,612.8 497.50,610.8 497.75,609.0 498.00,607.3 499.00,601.6 500.00,597.1 501.00,593.4 502.00,590.2 503.00,587.6 504.00,585.3 505.00,583.2 506.00,581.5 507.00,579.9 508.00,578.5 509.00,577.3 510.00,576.3 511.00,575.3 512.00,574.6 513.00,573.9 514.00,573.3 515.00,572.9 516.00,572.5 517.00,572.2 518.00,572.1 519.00,572.0 520.00,572.0 521.00,572.2 522.00,572.4 523.00,572.7 524.00,573.1 525.00,573.6 526.00,574.2 527.00,575.0 528.00,575.9 529.00,576.8 530.00,578.0 531.00,579.3 532.00,580.8 533.00,582.4 534.00,584.3 535.00,586.5 536.00,589.0 537.00,591.9 538.00,595.4 539.00,599.5 540.00,604.7 541.00,611.3 541.25,613.3 541.50,615.4 541.75,617.8 542.00,620.3 542.25,623.0 542.50,626.0 542.75,629.2 543.00,632.3 543.25,635.2 543.50,637.1 543.75,637.4 544.00,636.1 544.25,633.6 544.50,630.5 544.75,627.3 545.00,624.3 545.25,621.4 545.50,618.8 545.75,616.4 546.00,614.2 546.25,612.1 546.50,610.2 546.75,608.5 547.75,602.5 548.75,597.8 549.75,594.0 550.75,590.7 551.75,588.0 552.75,585.6 553.75,583.6 554.75,581.7 555.75,580.2 556.75,578.7 557.75,577.5 558.75,576.4 559.75,575.5 560.75,574.7 561.75,574.0 562.75,573.4 563.75,572.9 564.75,572.6 565.75,572.3 566.75,572.1 567.75,572.0 568.75,572.0 569.75,572.1 570.75,572.3 571.75,572.6 572.75,573.0 573.75,573.5 574.75,574.1 575.75,574.9 576.75,575.7 577.75,576.7 578.75,577.8 579.75,579.0 580.75,580.5 581.75,582.1 582.75,584.0 583.75,586.1 584.75,588.6 585.75,591.4 586.75,594.8 587.75,598.8 588.75,603.7 589.75,610.0 590.00,611.9 590.25,613.9 590.50,616.1 590.75,618.5 591.00,621.1 591.25,624.0 591.50,627.0 591.75,630.2 592.00,633.3 592.25,635.9 592.50,637.4 592.75,637.2 593.00,635.4 593.25,632.6 593.50,629.5 593.75,626.3 594.00,623.3 594.25,620.6 594.50,618.0 594.75,615.7 595.00,613.5 595.25,611.5 595.50,609.6 595.75,607.9 596.75,602.1 597.75,597.5 598.75,593.7 599.75,590.5 600.75,587.8 601.75,585.4 602.75,583.4 603.75,581.6 604.75,580.0 605.75,578.6 606.75,577.4 607.75,576.4 608.75,575.4 609.75,574.6 610.75,573.9 611.75,573.4 612.75,572.9 613.75,572.5 614.75,572.3 615.75,572.1 616.75,572.0 617.75,572.0 618.75,572.1 619.75,572.4 620.75,572.7 621.75,573.1 622.75,573.6 623.75,574.2 624.75,574.9 625.75,575.8 626.75,576.8 627.75,577.9 628.75,579.2 629.75,580.6 630.75,582.3 631.75,584.2 632.75,586.3 633.75,588.8 634.75,591.7 635.75,595.1 636.75,599.1 637.75,604.2 638.75,610.6 639.00,612.5 639.25,614.6 639.50,616.9 639.75,619.4 640.00,622.0 640.25,624.9 640.50,628.0 640.75,631.2 641.00,634.2 641.25,636.5 641.50,637.5 641.75,636.8 642.00,634.6 642.25,631.7 642.50,628.5 642.75,625.4 643.00,622.4 643.25,619.7 643.50,617.2 643.75,614.9 644.00,612.8 644.25,610.9 644.50,609.1 644.75,607.4 645.75,601.7 646.75,597.1 647.75,593.4 648.75,590.3 649.75,587.6 650.75,585.3 651.75,583.2 652.75,581.5 653.75,579.9 654.75,578.5 655.75,577.3 656.75,576.3 657.75,575.4 658.75,574.6 659.75,573.9 660.75,573.3 661.75,572.9 662.75,572.5 663.75,572.2 664.75,572.1 665.75,572.0 666.75,572.0 667.75,572.2 668.75,572.4 669.75,572.7 670.75,573.1 671.75,573.6 672.75,574.2 673.75,575.0 674.75,575.8 675.75,576.8 676.75,578.0 677.75,579.3 678.75,580.7 679.75,582.4 680.75,584.3 681.75,586.5 682.75,589.0 683.75,591.9 684.75,595.4 685.75,599.5 686.75,604.6 687.75,611.2 688.00,613.2 688.25,615.3 688.50,617.7 688.75,620.2 689.00,622.9 689.25,625.9 689.50,629.0 689.75,632.2 690.00,635.1" stroke="url(#g28)" stroke-width="2.1"/>
<path d="M132.00,700.3 133.00,696.6 134.00,693.5 135.00,690.9 136.00,688.6 137.00,686.6 138.00,684.9 139.00,683.3 140.00,682.0 141.00,680.8 142.00,679.8 143.00,678.9 144.00,678.1 145.00,677.4 146.00,676.9 147.00,676.4 148.00,676.1 149.00,675.8 150.00,675.7 151.00,675.6 152.00,675.6 153.00,675.8 154.00,676.0 155.00,676.3 156.00,676.8 157.00,677.3 158.00,677.9 159.00,678.7 160.00,679.6 161.00,680.6 162.00,681.7 163.00,683.0 164.00,684.5 165.00,686.2 166.00,688.2 167.00,690.4 168.00,692.9 169.00,695.9 170.00,699.4 171.00,703.6 172.00,708.9 173.00,715.7 173.25,717.8 173.50,720.0 173.75,722.4 174.00,725.1 174.25,727.9 174.50,731.0 174.75,734.1 175.00,737.2 175.25,739.7 175.50,741.0 175.75,740.7 176.00,738.7 176.25,735.9 176.50,732.7 176.75,729.6 177.00,726.6 177.25,723.9 177.50,721.3 177.75,719.0 178.00,716.9 178.25,714.9 178.50,713.0 178.75,711.3 179.75,705.6 180.75,701.0 181.75,697.2 182.75,694.0 183.75,691.3 184.75,689.0 185.75,686.9 186.75,685.2 187.75,683.6 188.75,682.2 189.75,681.0 190.75,679.9 191.75,679.0 192.75,678.2 193.75,677.5 194.75,676.9 195.75,676.5 196.75,676.1 197.75,675.9 198.75,675.7 199.75,675.6 200.75,675.6 201.75,675.7 202.75,676.0 203.75,676.3 204.75,676.7 205.75,677.2 206.75,677.8 207.75,678.5 208.75,679.4 209.75,680.4 210.75,681.5 211.75,682.8 212.75,684.3 213.75,685.9 214.75,687.8 215.75,690.0 216.75,692.5 217.75,695.4 218.75,698.8 219.75,702.9 220.75,707.9 221.75,714.4 222.00,716.4 222.25,718.5 222.50,720.8 222.75,723.2 223.00,725.9 223.25,728.9 223.50,732.0 223.75,735.2 224.00,738.1 224.25,740.3 224.50,741.1 224.75,740.2 225.00,737.9 225.25,734.9 225.50,731.7 225.75,728.6 226.00,725.7 226.25,723.0 226.50,720.6 226.75,718.3 227.00,716.2 227.25,714.3 227.50,712.5 228.50,706.4 229.50,701.7 230.50,697.8 231.50,694.5 232.50,691.8 233.50,689.4 234.50,687.3 235.50,685.4 236.50,683.8 237.50,682.4 238.50,681.2 239.50,680.1 240.50,679.2 241.50,678.3 242.50,677.6 243.50,677.0 244.50,676.6 245.50,676.2 246.50,675.9 247.50,675.7 248.50,675.6 249.50,675.6 250.50,675.7 251.50,675.9 252.50,676.2 253.50,676.6 254.50,677.1 255.50,677.7 256.50,678.4 257.50,679.2 258.50,680.2 259.50,681.3 260.50,682.6 261.50,684.0 262.50,685.6 263.50,687.5 264.50,689.6 265.50,692.0 266.50,694.8 267.50,698.1 268.50,702.1 269.50,707.0 270.50,713.2 270.75,715.0 271.00,717.0 271.25,719.2 271.50,721.5 271.75,724.1 272.00,726.9 272.25,729.8 272.50,733.0 272.75,736.2 273.00,738.9 273.25,740.8 273.50,741.0 273.75,739.6 274.00,737.0 274.25,733.9 274.50,730.7 274.75,727.7 275.00,724.8 275.25,722.2 275.50,719.8 275.75,717.6 276.00,715.6 276.25,713.7 276.50,711.9 277.50,706.0 278.50,701.3 279.50,697.5 280.50,694.3 281.50,691.5 282.50,689.2 283.50,687.1 284.50,685.3 285.50,683.7 286.50,682.3 287.50,681.1 288.50,680.0 289.50,679.1 290.50,678.3 291.50,677.6 292.50,677.0 293.50,676.5 294.50,676.1 295.50,675.9 296.50,675.7 297.50,675.6 298.50,675.6 299.50,675.7 300.50,675.9 301.50,676.2 302.50,676.6 303.50,677.1 304.50,677.7 305.50,678.5 306.50,679.3 307.50,680.3 308.50,681.4 309.50,682.7 310.50,684.1 311.50,685.8 312.50,687.6 313.50,689.8 314.50,692.2 315.50,695.1 316.50,698.4 317.50,702.5 318.50,707.4 319.50,713.8 319.75,715.7 320.00,717.7 320.25,719.9 320.50,722.3 320.75,724.9 321.00,727.8 321.25,730.8 321.50,734.0 321.75,737.1 322.00,739.7 322.25,741.0 322.50,740.7 322.75,738.8 323.00,736.0 323.25,732.9 323.50,729.7 323.75,726.7 324.00,724.0 324.25,721.4 324.50,719.1 324.75,716.9 325.00,715.0 325.25,713.1 325.50,711.4 326.50,705.6 327.50,701.0 328.50,697.2 329.50,694.1 330.50,691.3 331.50,689.0 332.50,687.0 333.50,685.2 334.50,683.6 335.50,682.2 336.50,681.0 337.50,679.9 338.50,679.0 339.50,678.2 340.50,677.5 341.50,677.0 342.50,676.5 343.50,676.1 344.50,675.9 345.50,675.7 346.50,675.6 347.50,675.6 348.50,675.7 349.50,676.0 350.50,676.3 351.50,676.7 352.50,677.2 353.50,677.8 354.50,678.5 355.50,679.4 356.50,680.4 357.50,681.5 358.50,682.8 359.50,684.2 360.50,685.9 361.50,687.8 362.50,689.9 363.50,692.4 364.50,695.3 365.50,698.7 366.50,702.8 367.50,707.9 368.50,714.4 368.75,716.3 369.00,718.4 369.25,720.7 369.50,723.1 369.75,725.8 370.00,728.7 370.25,731.9 370.50,735.0 370.75,738.0 371.00,740.3 371.25,741.1 371.50,740.3 371.75,738.0 372.00,735.0 372.25,731.9 372.50,728.7 372.75,725.8 373.00,723.1 373.25,720.7 373.50,718.4 373.75,716.3 374.00,714.4 374.25,712.6 374.50,710.9 375.50,705.2 376.50,700.7 377.50,697.0 378.50,693.8 379.50,691.1 380.50,688.8 381.50,686.8 382.50,685.0 383.50,683.5 384.50,682.1 385.50,680.9 386.50,679.9 387.50,678.9 388.50,678.1 389.50,677.5 390.50,676.9 391.50,676.5 392.50,676.1 393.50,675.8 394.50,675.7 395.50,675.6 396.50,675.6 397.50,675.8 398.50,676.0 399.50,676.3 400.50,676.7 401.50,677.2 402.50,677.9 403.50,678.6 404.50,679.5 405.50,680.5 406.50,681.6 407.50,682.9 408.50,684.4 409.50,686.0 410.50,688.0 411.50,690.1 412.50,692.7 413.50,695.6 414.50,699.0 415.50,703.2 416.50,708.3 417.50,715.0 417.75,716.9 418.00,719.1 418.25,721.4 418.50,724.0 418.75,726.7 419.00,729.7 419.25,732.9 419.50,736.0 419.75,738.8 420.00,740.7 420.25,741.0 420.50,739.7 420.75,737.1 421.00,734.0 421.25,730.8 421.50,727.8 421.75,724.9 422.00,722.3 422.25,719.9 422.50,717.7 422.75,715.7 423.00,713.8 423.25,712.0 424.25,706.1 425.25,701.4 426.25,697.5 427.25,694.3 428.25,691.6 429.25,689.2 430.25,687.1 431.25,685.3 432.25,683.7 433.25,682.3 434.25,681.1 435.25,680.0 436.25,679.1 437.25,678.3 438.25,677.6 439.25,677.0 440.25,676.5 441.25,676.2 442.25,675.9 443.25,675.7 444.25,675.6 445.25,675.6 446.25,675.7 447.25,675.9 448.25,676.2 449.25,676.6 450.25,677.1 451.25,677.7 452.25,678.5 453.25,679.3 454.25,680.3 455.25,681.4 456.25,682.7 457.25,684.1 458.25,685.7 459.25,687.6 460.25,689.7 461.25,692.2 462.25,695.0 463.25,698.4 464.25,702.4 465.25,707.4 466.25,713.7 466.50,715.6 466.75,717.6 467.00,719.8 467.25,722.2 467.50,724.8 467.75,727.7 468.00,730.7 468.25,733.9 468.50,737.0 468.75,739.6 469.00,741.0 469.25,740.8 469.50,738.9 469.75,736.2 470.00,733.0 470.25,729.8 470.50,726.9 470.75,724.1 471.00,721.5 471.25,719.2 471.50,717.0 471.75,715.0 472.00,713.2 472.25,711.5 473.25,705.7 474.25,701.0 475.25,697.3 476.25,694.1 477.25,691.4 478.25,689.0 479.25,687.0 480.25,685.2 481.25,683.6 482.25,682.2 483.25,681.0 484.25,679.9 485.25,679.0 486.25,678.2 487.25,677.5 488.25,677.0 489.25,676.5 490.25,676.1 491.25,675.9 492.25,675.7 493.25,675.6 494.25,675.6 495.25,675.7 496.25,676.0 497.25,676.3 498.25,676.7 499.25,677.2 500.25,677.8 501.25,678.5 502.25,679.4 503.25,680.4 504.25,681.5 505.25,682.8 506.25,684.2 507.25,685.9 508.25,687.8 509.25,689.9 510.25,692.4 511.25,695.3 512.25,698.7 513.25,702.8 514.25,707.8 515.25,714.3 515.50,716.2 515.75,718.3 516.00,720.6 516.25,723.0 516.50,725.7 516.75,728.6 517.00,731.7 517.25,734.9 517.50,737.9 517.75,740.2 518.00,741.1 518.25,740.3 518.50,738.1 518.75,735.2 519.00,732.0 519.25,728.9 519.50,725.9 519.75,723.2 520.00,720.8 520.25,718.5 520.50,716.4 520.75,714.4 521.00,712.6 521.25,711.0 522.25,705.2 523.25,700.7 524.25,697.0 525.25,693.9 526.25,691.2 527.25,688.9 528.25,686.8 529.25,685.1 530.25,683.5 531.25,682.1 532.25,680.9 533.25,679.9 534.25,679.0 535.25,678.2 536.25,677.5 537.25,676.9 538.25,676.5 539.25,676.1 540.25,675.8 541.25,675.7 542.25,675.6 543.25,675.6 544.25,675.8 545.25,676.0 546.25,676.3 547.25,676.7 548.25,677.2 549.25,677.8 550.25,678.6 551.25,679.4 552.25,680.4 553.25,681.6 554.25,682.9 555.25,684.4 556.25,686.0 557.25,687.9 558.25,690.1 559.25,692.6 560.25,695.5 561.25,699.0 562.25,703.1 563.25,708.3 564.25,714.9 564.50,716.9 564.75,719.0 565.00,721.3 565.25,723.9 565.50,726.6 565.75,729.6 566.00,732.7 566.25,735.9 566.50,738.7 566.75,740.7 567.00,741.0 567.25,739.7 567.50,737.2 567.75,734.1 568.00,731.0 568.25,727.9 568.50,725.1 568.75,722.4 569.00,720.0 569.25,717.8 569.50,715.7 569.75,713.8 570.00,712.1 571.00,706.1 572.00,701.4 573.00,697.6 574.00,694.3 575.00,691.6 576.00,689.2 577.00,687.2 578.00,685.3 579.00,683.8 580.00,682.4 581.00,681.1 582.00,680.0 583.00,679.1 584.00,678.3 585.00,677.6 586.00,677.0 587.00,676.5 588.00,676.2 589.00,675.9 590.00,675.7 591.00,675.6 592.00,675.6 593.00,675.7 594.00,675.9 595.00,676.2 596.00,676.6 597.00,677.1 598.00,677.7 599.00,678.5 600.00,679.3 601.00,680.3 602.00,681.4 603.00,682.6 604.00,684.1 605.00,685.7 606.00,687.6 607.00,689.7 608.00,692.2 609.00,695.0 610.00,698.4 611.00,702.4 612.00,707.3 613.00,713.6 613.25,715.5 613.50,717.5 613.75,719.7 614.00,722.1 614.25,724.7 614.50,727.6 614.75,730.6 615.00,733.8 615.25,736.9 615.50,739.5 615.75,741.0 616.00,740.8 616.25,739.0 616.50,736.3 616.75,733.1 617.00,730.0 617.25,727.0 617.50,724.2 617.75,721.6 618.00,719.3 618.25,717.1 618.50,715.1 618.75,713.3 619.00,711.5 620.00,705.7 621.00,701.1 622.00,697.3 623.00,694.1 624.00,691.4 625.00,689.1 626.00,687.0 627.00,685.2 628.00,683.6 629.00,682.2 630.00,681.0 631.00,680.0 632.00,679.0 633.00,678.2 634.00,677.5 635.00,677.0 636.00,676.5 637.00,676.1 638.00,675.9 639.00,675.7 640.00,675.6 641.00,675.6 642.00,675.7 643.00,676.0 644.00,676.3 645.00,676.7 646.00,677.2 647.00,677.8 648.00,678.5 649.00,679.4 650.00,680.3 651.00,681.5 652.00,682.8 653.00,684.2 654.00,685.9 655.00,687.7 656.00,689.9 657.00,692.4 658.00,695.3 659.00,698.7 660.00,702.7 661.00,707.8 662.00,714.2 662.25,716.1 662.50,718.2 662.75,720.5 663.00,722.9 663.25,725.6 663.50,728.5 663.75,731.6 664.00,734.8 664.25,737.8 664.50,740.1 664.75,741.1 665.00,740.4 665.25,738.2 665.50,735.3 665.75,732.1 666.00,729.0 666.25,726.1 666.50,723.3 666.75,720.9 667.00,718.6 667.25,716.5 667.50,714.5 667.75,712.7 668.00,711.0 669.00,705.3 670.00,700.8 671.00,697.0 672.00,693.9 673.00,691.2 674.00,688.9 675.00,686.9 676.00,685.1 677.00,683.5 678.00,682.1 679.00,680.9 680.00,679.9 681.00,679.0 682.00,678.2 683.00,677.5 684.00,676.9 685.00,676.5 686.00,676.1 687.00,675.8 688.00,675.7 689.00,675.6 690.00,675.6" stroke="url(#g26)" stroke-width="2.1"/>
<path d="M132.00,785.7 133.00,786.2 134.00,786.8 135.00,787.5 136.00,788.4 137.00,789.3 138.00,790.4 139.00,791.7 140.00,793.1 141.00,794.8 142.00,796.6 143.00,798.8 144.00,801.2 145.00,804.0 146.00,807.4 147.00,811.4 148.00,816.3 149.00,822.5 149.25,824.4 149.50,826.4 149.75,828.6 150.00,831.0 150.25,833.5 150.50,836.3 150.75,839.4 151.00,842.5 151.25,845.7 151.50,848.4 151.75,850.0 152.00,850.0 152.25,848.4 152.50,845.7 152.75,842.6 153.00,839.4 153.25,836.4 153.50,833.6 153.75,831.0 154.00,828.6 154.25,826.4 154.50,824.4 154.75,822.5 155.00,820.8 156.00,814.9 157.00,810.3 158.00,806.5 159.00,803.3 160.00,800.6 161.00,798.2 162.00,796.2 163.00,794.4 164.00,792.8 165.00,791.4 166.00,790.2 167.00,789.1 168.00,788.2 169.00,787.3 170.00,786.7 171.00,786.1 172.00,785.6 173.00,785.2 174.00,785.0 175.00,784.8 176.00,784.7 177.00,784.7 178.00,784.8 179.00,785.0 180.00,785.3 181.00,785.7 182.00,786.3 183.00,786.9 184.00,787.6 185.00,788.4 186.00,789.4 187.00,790.5 188.00,791.8 189.00,793.3 190.00,794.9 191.00,796.8 192.00,798.9 193.00,801.4 194.00,804.3 195.00,807.7 196.00,811.7 197.00,816.7 198.00,823.1 198.25,825.0 198.50,827.1 198.75,829.3 199.00,831.8 199.25,834.4 199.50,837.3 199.75,840.4 200.00,843.6 200.25,846.6 200.50,849.0 200.75,850.2 201.00,849.6 201.25,847.6 201.50,844.7 201.75,841.5 202.00,838.4 202.25,835.5 202.50,832.7 202.75,830.2 203.00,827.9 203.25,825.8 203.50,823.8 203.75,822.0 204.00,820.3 205.00,814.5 206.00,810.0 207.00,806.2 208.00,803.1 209.00,800.4 210.00,798.0 211.00,796.0 212.00,794.2 213.00,792.7 214.00,791.3 215.00,790.1 216.00,789.0 217.00,788.1 218.00,787.3 219.00,786.6 220.00,786.0 221.00,785.6 222.00,785.2 223.00,784.9 224.00,784.8 225.00,784.7 226.00,784.7 227.00,784.9 228.00,785.1 229.00,785.4 230.00,785.8 231.00,786.3 232.00,786.9 233.00,787.7 234.00,788.5 235.00,789.5 236.00,790.6 237.00,791.9 238.00,793.4 239.00,795.1 240.00,797.0 241.00,799.1 242.00,801.6 243.00,804.5 244.00,808.0 245.00,812.1 246.00,817.2 247.00,823.7 247.25,825.7 247.50,827.8 247.75,830.1 248.00,832.6 248.25,835.3 248.50,838.3 248.75,841.4 249.00,844.6 249.25,847.5 249.50,849.6 249.75,850.2 250.00,849.1 250.25,846.7 250.50,843.7 250.75,840.5 251.00,837.4 251.25,834.6 251.50,831.9 251.75,829.4 252.00,827.2 252.25,825.1 252.50,823.2 252.75,821.4 253.75,815.4 254.75,810.7 255.75,806.8 256.75,803.6 257.75,800.8 258.75,798.4 259.75,796.3 260.75,794.5 261.75,792.9 262.75,791.5 263.75,790.3 264.75,789.2 265.75,788.2 266.75,787.4 267.75,786.7 268.75,786.1 269.75,785.6 270.75,785.3 271.75,785.0 272.75,784.8 273.75,784.7 274.75,784.7 275.75,784.8 276.75,785.0 277.75,785.3 278.75,785.7 279.75,786.2 280.75,786.8 281.75,787.5 282.75,788.4 283.75,789.3 284.75,790.4 285.75,791.7 286.75,793.1 287.75,794.8 288.75,796.6 289.75,798.7 290.75,801.2 291.75,804.0 292.75,807.3 293.75,811.3 294.75,816.2 295.75,822.5 296.00,824.3 296.25,826.3 296.50,828.5 296.75,830.9 297.00,833.4 297.25,836.2 297.50,839.2 297.75,842.4 298.00,845.5 298.25,848.3 298.50,850.0 298.75,850.0 299.00,848.5 299.25,845.8 299.50,842.7 299.75,839.5 300.00,836.5 300.25,833.7 300.50,831.1 300.75,828.7 301.00,826.5 301.25,824.5 301.50,822.6 301.75,820.9 302.75,815.0 303.75,810.3 304.75,806.5 305.75,803.3 306.75,800.6 307.75,798.2 308.75,796.2 309.75,794.4 310.75,792.8 311.75,791.4 312.75,790.2 313.75,789.1 314.75,788.2 315.75,787.4 316.75,786.7 317.75,786.1 318.75,785.6 319.75,785.2 320.75,785.0 321.75,784.8 322.75,784.7 323.75,784.7 324.75,784.8 325.75,785.0 326.75,785.3 327.75,785.7 328.75,786.2 329.75,786.9 330.75,787.6 331.75,788.4 332.75,789.4 333.75,790.5 334.75,791.8 335.75,793.3 336.75,794.9 337.75,796.8 338.75,798.9 339.75,801.4 340.75,804.2 341.75,807.6 342.75,811.7 343.75,816.7 344.75,823.0 345.00,824.9 345.25,827.0 345.50,829.2 345.75,831.7 346.00,834.3 346.25,837.2 346.50,840.2 346.75,843.4 347.00,846.5 347.25,849.0 347.50,850.2 347.75,849.7 348.00,847.7 348.25,844.8 348.50,841.7 348.75,838.5 349.00,835.6 349.25,832.8 349.50,830.3 349.75,828.0 350.00,825.8 350.25,823.9 350.50,822.1 350.75,820.4 351.75,814.6 352.75,810.0 353.75,806.2 354.75,803.1 355.75,800.4 356.75,798.1 357.75,796.0 358.75,794.2 359.75,792.7 360.75,791.3 361.75,790.1 362.75,789.0 363.75,788.1 364.75,787.3 365.75,786.6 366.75,786.0 367.75,785.6 368.75,785.2 369.75,785.0 370.75,784.8 371.75,784.7 372.75,784.7 373.75,784.8 374.75,785.1 375.75,785.4 376.75,785.8 377.75,786.3 378.75,786.9 379.75,787.6 380.75,788.5 381.75,789.5 382.75,790.6 383.75,791.9 384.75,793.4 385.75,795.0 386.75,796.9 387.75,799.1 388.75,801.6 389.75,804.5 390.75,807.9 391.75,812.0 392.75,817.1 393.75,823.6 394.00,825.6 394.25,827.7 394.50,830.0 394.75,832.5 395.00,835.2 395.25,838.1 395.50,841.3 395.75,844.4 396.00,847.4 396.25,849.5 396.50,850.2 396.75,849.2 397.00,846.8 397.25,843.8 397.50,840.6 397.75,837.6 398.00,834.7 398.25,832.0 398.50,829.5 398.75,827.3 399.00,825.2 399.25,823.3 399.50,821.5 400.50,815.5 401.50,810.7 402.50,806.8 403.50,803.6 404.50,800.8 405.50,798.4 406.50,796.3 407.50,794.5 408.50,792.9 409.50,791.5 410.50,790.3 411.50,789.2 412.50,788.2 413.50,787.4 414.50,786.7 415.50,786.1 416.50,785.6 417.50,785.3 418.50,785.0 419.50,784.8 420.50,784.7 421.50,784.7 422.50,784.8 423.50,785.0 424.50,785.3 425.50,785.7 426.50,786.2 427.50,786.8 428.50,787.5 429.50,788.4 430.50,789.3 431.50,790.4 432.50,791.7 433.50,793.1 434.50,794.7 435.50,796.6 436.50,798.7 437.50,801.1 438.50,804.0 439.50,807.3 440.50,811.3 441.50,816.2 442.50,822.4 442.75,824.2 443.00,826.2 443.25,828.4 443.50,830.8 443.75,833.3 444.00,836.1 444.25,839.1 444.50,842.3 444.75,845.4 445.00,848.2 445.25,849.9 445.50,850.1 445.75,848.6 446.00,845.9 446.25,842.8 446.50,839.6 446.75,836.6 447.00,833.8 447.25,831.2 447.50,828.8 447.75,826.6 448.00,824.6 448.25,822.7 448.50,821.0 449.50,815.0 450.50,810.4 451.50,806.6 452.50,803.3 453.50,800.6 454.50,798.3 455.50,796.2 456.50,794.4 457.50,792.8 458.50,791.4 459.50,790.2 460.50,789.1 461.50,788.2 462.50,787.4 463.50,786.7 464.50,786.1 465.50,785.6 466.50,785.2 467.50,785.0 468.50,784.8 469.50,784.7 470.50,784.7 471.50,784.8 472.50,785.0 473.50,785.3 474.50,785.7 475.50,786.2 476.50,786.9 477.50,787.6 478.50,788.4 479.50,789.4 480.50,790.5 481.50,791.8 482.50,793.2 483.50,794.9 484.50,796.8 485.50,798.9 486.50,801.4 487.50,804.2 488.50,807.6 489.50,811.6 490.50,816.6 491.50,823.0 491.75,824.9 492.00,826.9 492.25,829.1 492.50,831.6 492.75,834.2 493.00,837.1 493.25,840.1 493.50,843.3 493.75,846.4 494.00,848.9 494.25,850.2 494.50,849.7 494.75,847.8 495.00,845.0 495.25,841.8 495.50,838.7 495.75,835.7 496.00,832.9 496.25,830.4 496.50,828.1 496.75,825.9 497.00,824.0 497.25,822.1 497.50,820.4 498.50,814.6 499.50,810.0 500.50,806.3 501.50,803.1 502.50,800.4 503.50,798.1 504.50,796.0 505.50,794.3 506.50,792.7 507.50,791.3 508.50,790.1 509.50,789.0 510.50,788.1 511.50,787.3 512.50,786.6 513.50,786.0 514.50,785.6 515.50,785.2 516.50,785.0 517.50,784.8 518.50,784.7 519.50,784.7 520.50,784.8 521.50,785.1 522.50,785.4 523.50,785.8 524.50,786.3 525.50,786.9 526.50,787.6 527.50,788.5 528.50,789.5 529.50,790.6 530.50,791.9 531.50,793.4 532.50,795.0 533.50,796.9 534.50,799.1 535.50,801.6 536.50,804.5 537.50,807.9 538.50,812.0 539.50,817.0 540.50,823.6 540.75,825.5 541.00,827.6 541.25,829.9 541.50,832.4 541.75,835.1 542.00,838.0 542.25,841.1 542.50,844.3 542.75,847.3 543.00,849.4 543.25,850.2 543.50,849.3 543.75,847.0 544.00,844.0 544.25,840.8 544.50,837.7 544.75,834.8 545.00,832.1 545.25,829.6 545.50,827.4 545.75,825.3 546.00,823.4 546.25,821.6 547.25,815.5 548.25,810.8 549.25,806.9 550.25,803.6 551.25,800.8 552.25,798.5 553.25,796.4 554.25,794.5 555.25,792.9 556.25,791.5 557.25,790.3 558.25,789.2 559.25,788.2 560.25,787.4 561.25,786.7 562.25,786.1 563.25,785.7 564.25,785.3 565.25,785.0 566.25,784.8 567.25,784.7 568.25,784.7 569.25,784.8 570.25,785.0 571.25,785.3 572.25,785.7 573.25,786.2 574.25,786.8 575.25,787.5 576.25,788.3 577.25,789.3 578.25,790.4 579.25,791.7 580.25,793.1 581.25,794.7 582.25,796.6 583.25,798.7 584.25,801.1 585.25,803.9 586.25,807.3 587.25,811.2 588.25,816.1 589.25,822.3 589.50,824.2 589.75,826.2 590.00,828.3 590.25,830.7 590.50,833.2 590.75,836.0 591.00,839.0 591.25,842.2 591.50,845.3 591.75,848.1 592.00,849.9 592.25,850.1 592.50,848.6 592.75,846.0 593.00,842.9 593.25,839.8 593.50,836.7 593.75,833.9 594.00,831.3 594.25,828.9 594.50,826.7 594.75,824.6 595.00,822.8 595.25,821.0 596.25,815.1 597.25,810.4 598.25,806.6 599.25,803.4 600.25,800.6 601.25,798.3 602.25,796.2 603.25,794.4 604.25,792.8 605.25,791.4 606.25,790.2 607.25,789.1 608.25,788.2 609.25,787.4 610.25,786.7 611.25,786.1 612.25,785.6 613.25,785.2 614.25,785.0 615.25,784.8 616.25,784.7 617.25,784.7 618.25,784.8 619.25,785.0 620.25,785.3 621.25,785.7 622.25,786.2 623.25,786.8 624.25,787.6 625.25,788.4 626.25,789.4 627.25,790.5 628.25,791.8 629.25,793.2 630.25,794.9 631.25,796.7 632.25,798.9 633.25,801.3 634.25,804.2 635.25,807.5 636.25,811.6 637.25,816.5 638.25,822.9 638.50,824.8 638.75,826.8 639.00,829.1 639.25,831.5 639.50,834.1 639.75,836.9 640.00,840.0 640.25,843.2 640.50,846.3 640.75,848.8 641.00,850.1 641.25,849.8 641.50,847.9 641.75,845.1 642.00,841.9 642.25,838.8 642.50,835.8 642.75,833.0 643.00,830.5 643.25,828.2 643.50,826.0 643.75,824.0 644.00,822.2 644.25,820.5 645.25,814.7 646.25,810.1 647.25,806.3 648.25,803.1 649.25,800.4 650.25,798.1 651.25,796.1 652.25,794.3 653.25,792.7 654.25,791.3 655.25,790.1 656.25,789.0 657.25,788.1 658.25,787.3 659.25,786.6 660.25,786.1 661.25,785.6 662.25,785.2 663.25,785.0 664.25,784.8 665.25,784.7 666.25,784.7 667.25,784.8 668.25,785.1 669.25,785.4 670.25,785.8 671.25,786.3 672.25,786.9 673.25,787.6 674.25,788.5 675.25,789.5 676.25,790.6 677.25,791.9 678.25,793.3 679.25,795.0 680.25,796.9 681.25,799.1 682.25,801.5 683.25,804.4 684.25,807.8 685.25,811.9 686.25,817.0 687.25,823.5 687.50,825.4 687.75,827.5 688.00,829.8 688.25,832.3 688.50,835.0 688.75,837.9 689.00,841.0 689.25,844.2 689.50,847.2 689.75,849.4 690.00,850.2" stroke="url(#g24)" stroke-width="2.1"/>
</g>
<rect x="132.0" y="22.4" width="152.0" height="34" fill="#f8f8f8"/>
<line x1="148.5" y1="39.4" x2="189" y2="39.4" stroke="#5a5a5a" stroke-width="2.1"/>
<text x="197" y="50.5" font-size="34.6" class="s">38 °C</text>
<rect x="132.0" y="127.6" width="152.0" height="34" fill="#f8f8f8"/>
<line x1="148.5" y1="144.6" x2="189" y2="144.6" stroke="#eef0b0" stroke-width="2.1"/>
<text x="197" y="155.7" font-size="34.6" class="s">36 °C</text>
<rect x="132.0" y="232.9" width="152.0" height="34" fill="#f8f8f8"/>
<line x1="148.5" y1="249.9" x2="189" y2="249.9" stroke="#3c3c3c" stroke-width="2.1"/>
<text x="197" y="261.0" font-size="34.6" class="s">34 °C</text>
<rect x="132.0" y="338.2" width="152.0" height="34" fill="#f8f8f8"/>
<line x1="148.5" y1="355.2" x2="189" y2="355.2" stroke="#a8a8a8" stroke-width="2.1"/>
<text x="197" y="366.3" font-size="34.6" class="s">32 °C</text>
<rect x="132.0" y="443.4" width="152.0" height="34" fill="#f8f8f8"/>
<line x1="148.5" y1="460.4" x2="189" y2="460.4" stroke="#33333d" stroke-width="2.1"/>
<text x="197" y="471.5" font-size="34.6" class="s">30 °C</text>
<rect x="132.0" y="549.0" width="152.0" height="34" fill="#f8f8f8"/>
<line x1="148.5" y1="566.0" x2="189" y2="566.0" stroke="#8a8a8a" stroke-width="2.1"/>
<text x="197" y="577.1" font-size="34.6" class="s">28 °C</text>
<rect x="132.0" y="654.5" width="152.0" height="34" fill="#f8f8f8"/>
<line x1="148.5" y1="671.5" x2="189" y2="671.5" stroke="#c0304f" stroke-width="2.1"/>
<text x="197" y="682.6" font-size="34.6" class="s">26 °C</text>
<rect x="132.0" y="759.5" width="152.0" height="34" fill="#f8f8f8"/>
<line x1="148.5" y1="776.5" x2="189" y2="776.5" stroke="#151515" stroke-width="2.1"/>
<text x="197" y="787.6" font-size="34.6" class="s">24 °C</text>
<line x1="397.0" y1="848.0" x2="560.1" y2="147.1" stroke="#cf1746" stroke-width="3.9"/>
<polygon points="568.3,112.0 568.0,150.9 551.4,147.1" fill="#e01a2c"/>
<g stroke="#141414" stroke-width="3" fill="none">
<rect x="131.6" y="22.4" width="558.6" height="841.8000000000001"/>
<line x1="132.0" y1="127.6" x2="690.0" y2="127.6"/>
<line x1="132.0" y1="232.9" x2="690.0" y2="232.9"/>
<line x1="132.0" y1="338.2" x2="690.0" y2="338.2"/>
<line x1="132.0" y1="443.4" x2="690.0" y2="443.4"/>
<line x1="132.0" y1="549.0" x2="690.0" y2="549.0"/>
<line x1="132.0" y1="654.5" x2="690.0" y2="654.5"/>
<line x1="132.0" y1="759.5" x2="690.0" y2="759.5"/>
</g>
<g stroke="#141414" stroke-width="2.7">
<line x1="132.0" y1="35.4" x2="145.5" y2="35.4"/>
<line x1="132.0" y1="88.2" x2="145.5" y2="88.2"/>
<line x1="132.0" y1="140.6" x2="145.5" y2="140.6"/>
<line x1="132.0" y1="193.4" x2="145.5" y2="193.4"/>
<line x1="132.0" y1="245.9" x2="145.5" y2="245.9"/>
<line x1="132.0" y1="298.7" x2="145.5" y2="298.7"/>
<line x1="132.0" y1="351.2" x2="145.5" y2="351.2"/>
<line x1="132.0" y1="404.0" x2="145.5" y2="404.0"/>
<line x1="132.0" y1="456.4" x2="145.5" y2="456.4"/>
<line x1="132.0" y1="509.2" x2="145.5" y2="509.2"/>
<line x1="132.0" y1="562.0" x2="145.5" y2="562.0"/>
<line x1="132.0" y1="614.8" x2="145.5" y2="614.8"/>
<line x1="132.0" y1="667.5" x2="145.5" y2="667.5"/>
<line x1="132.0" y1="720.3" x2="145.5" y2="720.3"/>
<line x1="132.0" y1="772.5" x2="145.5" y2="772.5"/>
<line x1="132.0" y1="825.3" x2="145.5" y2="825.3"/>
<line x1="271.5" y1="864.2" x2="271.5" y2="851.7"/>
<line x1="411.0" y1="864.2" x2="411.0" y2="851.7"/>
<line x1="550.5" y1="864.2" x2="550.5" y2="851.7"/>
</g>
<text x="121" y="44.2" font-size="26" text-anchor="end" class="s">0</text>
<text x="121" y="97.0" font-size="26" text-anchor="end" class="s">−20</text>
<text x="121" y="149.4" font-size="26" text-anchor="end" class="s">0</text>
<text x="121" y="202.2" font-size="26" text-anchor="end" class="s">−20</text>
<text x="121" y="254.7" font-size="26" text-anchor="end" class="s">0</text>
<text x="121" y="307.5" font-size="26" text-anchor="end" class="s">−20</text>
<text x="121" y="360.0" font-size="26" text-anchor="end" class="s">0</text>
<text x="121" y="412.8" font-size="26" text-anchor="end" class="s">−20</text>
<text x="121" y="465.2" font-size="26" text-anchor="end" class="s">0</text>
<text x="121" y="518.0" font-size="26" text-anchor="end" class="s">−20</text>
<text x="121" y="570.8" font-size="26" text-anchor="end" class="s">0</text>
<text x="121" y="623.6" font-size="26" text-anchor="end" class="s">−20</text>
<text x="121" y="676.3" font-size="26" text-anchor="end" class="s">0</text>
<text x="121" y="729.1" font-size="26" text-anchor="end" class="s">−20</text>
<text x="121" y="781.3" font-size="26" text-anchor="end" class="s">0</text>
<text x="121" y="834.1" font-size="26" text-anchor="end" class="s">−20</text>
<text x="132.0" y="896.8" font-size="26.5" letter-spacing="0.35" text-anchor="middle" class="s">1 545.0</text>
<text x="271.5" y="896.8" font-size="26.5" letter-spacing="0.35" text-anchor="middle" class="s">1 547.5</text>
<text x="411.0" y="896.8" font-size="26.5" letter-spacing="0.35" text-anchor="middle" class="s">1 550.0</text>
<text x="550.5" y="896.8" font-size="26.5" letter-spacing="0.35" text-anchor="middle" class="s">1 552.5</text>
<text x="690.0" y="896.8" font-size="26.5" letter-spacing="0.35" text-anchor="middle" class="s">1 555.0</text>
<text x="412" y="958.4" font-size="54" letter-spacing="0.6" text-anchor="middle" class="s">Wavelength/nm</text>
<text transform="translate(47.6,442) rotate(-90)" font-size="54" letter-spacing="0.4" text-anchor="middle" class="s">Intensity/(dB)</text>
<text x="16.2" y="46" font-size="55.5" class="s">(a)</text>
<g stroke="#141414" stroke-width="3" fill="none">
<rect x="901.0" y="22.5" width="558.5999999999999" height="841.7"/>
</g>
<g stroke="#141414" stroke-width="2.8">
<line x1="901.0" y1="142.7" x2="915" y2="142.7"/>
<line x1="901.0" y1="263.0" x2="915" y2="263.0"/>
<line x1="901.0" y1="383.2" x2="915" y2="383.2"/>
<line x1="901.0" y1="503.5" x2="915" y2="503.5"/>
<line x1="901.0" y1="623.7" x2="915" y2="623.7"/>
<line x1="901.0" y1="744.0" x2="915" y2="744.0"/>
<line x1="963.1" y1="864.2" x2="963.1" y2="849.2"/>
<line x1="1025.1" y1="864.2" x2="1025.1" y2="849.2"/>
<line x1="1087.2" y1="864.2" x2="1087.2" y2="849.2"/>
<line x1="1149.3" y1="864.2" x2="1149.3" y2="849.2"/>
<line x1="1211.3" y1="864.2" x2="1211.3" y2="849.2"/>
<line x1="1273.4" y1="864.2" x2="1273.4" y2="849.2"/>
<line x1="1335.5" y1="864.2" x2="1335.5" y2="849.2"/>
<line x1="1397.5" y1="864.2" x2="1397.5" y2="849.2"/>
</g>
<text x="889.6" y="31.3" font-size="26.5" letter-spacing="0.2" text-anchor="end" class="s">1 553.0</text>
<text x="889.6" y="151.5" font-size="26.5" letter-spacing="0.2" text-anchor="end" class="s">1 552.5</text>
<text x="889.6" y="271.8" font-size="26.5" letter-spacing="0.2" text-anchor="end" class="s">1 552.0</text>
<text x="889.6" y="392.0" font-size="26.5" letter-spacing="0.2" text-anchor="end" class="s">1 551.5</text>
<text x="889.6" y="512.3" font-size="26.5" letter-spacing="0.2" text-anchor="end" class="s">1 551.0</text>
<text x="889.6" y="632.5" font-size="26.5" letter-spacing="0.2" text-anchor="end" class="s">1 550.5</text>
<text x="889.6" y="752.8" font-size="26.5" letter-spacing="0.2" text-anchor="end" class="s">1 550.0</text>
<text x="889.6" y="873.0" font-size="26.5" letter-spacing="0.2" text-anchor="end" class="s">1 549.5</text>
<text x="901.0" y="896" font-size="26.5" text-anchor="middle" class="s">22</text>
<text x="963.1" y="896" font-size="26.5" text-anchor="middle" class="s">24</text>
<text x="1025.1" y="896" font-size="26.5" text-anchor="middle" class="s">26</text>
<text x="1087.2" y="896" font-size="26.5" text-anchor="middle" class="s">28</text>
<text x="1149.3" y="896" font-size="26.5" text-anchor="middle" class="s">30</text>
<text x="1211.3" y="896" font-size="26.5" text-anchor="middle" class="s">32</text>
<text x="1273.4" y="896" font-size="26.5" text-anchor="middle" class="s">34</text>
<text x="1335.5" y="896" font-size="26.5" text-anchor="middle" class="s">36</text>
<text x="1397.5" y="896" font-size="26.5" text-anchor="middle" class="s">38</text>
<text x="1459.6" y="896" font-size="26.5" text-anchor="middle" class="s">40</text>
<circle cx="963" cy="811.5" r="9.3" fill="url(#pt)"/>
<circle cx="1024.8" cy="708" r="9.3" fill="url(#pt)"/>
<circle cx="1087.2" cy="597.5" r="9.3" fill="url(#pt)"/>
<circle cx="1149.2" cy="489" r="9.3" fill="url(#pt)"/>
<circle cx="1210.8" cy="380.5" r="9.3" fill="url(#pt)"/>
<circle cx="1273.5" cy="284.5" r="9.3" fill="url(#pt)"/>
<circle cx="1336.2" cy="168.5" r="9.3" fill="url(#pt)"/>
<circle cx="1397.8" cy="63.2" r="9.3" fill="url(#pt)"/>
<line x1="963" y1="811.5" x2="1397.8" y2="63.2" stroke="#a5123d" stroke-width="5.3" stroke-linecap="round"/>
<line x1="963.3" y1="811.5" x2="1398.1" y2="63.2" stroke="#f6184a" stroke-width="2.5" stroke-linecap="round"/>
<circle cx="968.6" cy="66" r="8.8" fill="url(#ball)"/>
<line x1="932" y1="117.2" x2="1007" y2="117.2" stroke="#e0184c" stroke-width="5"/>
<text x="1026" y="78" font-size="41.5" class="s">Date</text>
<text x="1026" y="130.6" font-size="41.5" class="s">Linear fitting</text>
<text x="1147" y="553.4" font-size="40.5" letter-spacing="0.3" word-spacing="2.5" class="s"><tspan font-style="italic">y</tspan>=0.22<tspan font-style="italic">x</tspan>+1 544.39</text>
<text x="1144" y="604.8" font-size="40.5" letter-spacing="0.3" word-spacing="2.5" class="s"><tspan font-style="italic">R</tspan><tspan font-size="23" dy="-16.5">2</tspan><tspan dy="16.5">=0.999 8</tspan></text>
<text x="1180" y="958.6" font-size="54" letter-spacing="0.5" text-anchor="middle" class="s">Temperature/°C</text>
<text transform="translate(779.3,438.5) rotate(-90)" font-size="54" letter-spacing="0.6" text-anchor="middle" class="s">Wavelength/nm</text>
<text x="738.5" y="60.3" font-size="60" letter-spacing="-1.9" class="s">(b)</text>
</svg>
</body></html>
